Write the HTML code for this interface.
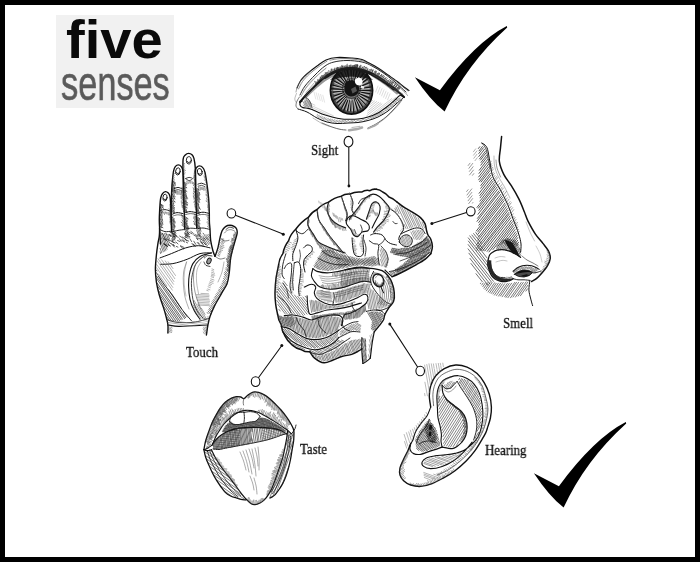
<!DOCTYPE html>
<html>
<head>
<meta charset="utf-8">
<title>five senses</title>
<style>
html,body{margin:0;padding:0;background:#fff;}
body{width:700px;height:562px;overflow:hidden;position:relative;font-family:"Liberation Serif",serif;}
#frame{position:absolute;left:0;top:0;width:690px;height:552px;border:5px solid #000;background:#fff;}
#logo{position:absolute;left:56px;top:14.5px;width:118px;height:93px;background:#f1f1f1;}
#logo .l1{position:absolute;left:10px;top:-5.5px;font-family:"Liberation Sans",sans-serif;font-weight:bold;font-size:54px;line-height:60px;color:#0a0a0a;letter-spacing:0;transform-origin:0 0;transform:scale(1.04,1.0);will-change:transform;white-space:nowrap;}
#logo .l2{position:absolute;left:4.5px;top:41px;will-change:transform;font-family:"Liberation Sans",sans-serif;font-size:48px;line-height:56px;color:#5a5a5a;transform-origin:0 0;transform:scale(0.715,1);white-space:nowrap;-webkit-text-stroke:0.6px #5a5a5a;}
.lbl{position:absolute;font-family:"Liberation Serif",serif;font-size:15px;line-height:15px;color:#111;white-space:nowrap;transform-origin:0 100%;transform:scaleX(0.86);will-change:transform;-webkit-text-stroke:0.3px #111;}
svg{position:absolute;left:0;top:0;}
</style>
</head>
<body>
<div id="frame"></div>
<div id="logo"><div class="l1">five</div><div class="l2">senses</div></div>
<div class="lbl" style="left:310.6px;top:142.6px;">Sight</div>
<div class="lbl" style="left:186px;top:345px;">Touch</div>
<div class="lbl" style="left:503.2px;top:315.8px;">Smell</div>
<div class="lbl" style="left:299.6px;top:441.6px;">Taste</div>
<div class="lbl" style="left:484.5px;top:443px;">Hearing</div>
<svg width="700" height="562" viewBox="0 0 700 562" fill="none" stroke="#111" stroke-width="0.9" stroke-linecap="round" stroke-linejoin="round">
<defs>
<pattern id="h45" width="2.6" height="2.6" patternUnits="userSpaceOnUse" patternTransform="rotate(-55)"><line x1="0" y1="1.3" x2="2.6" y2="1.3" stroke="#111" stroke-width="0.8"/></pattern>
<pattern id="h45l" width="3.6" height="3.6" patternUnits="userSpaceOnUse" patternTransform="rotate(-55)"><line x1="0" y1="1.8" x2="3.6" y2="1.8" stroke="#222" stroke-width="0.7"/></pattern>
<pattern id="h135" width="2.8" height="2.8" patternUnits="userSpaceOnUse" patternTransform="rotate(50)"><line x1="0" y1="1.4" x2="2.8" y2="1.4" stroke="#111" stroke-width="0.8"/></pattern>
<pattern id="hv" width="2.4" height="2.4" patternUnits="userSpaceOnUse" patternTransform="rotate(80)"><line x1="0" y1="1.2" x2="2.4" y2="1.2" stroke="#111" stroke-width="0.7"/></pattern>
<pattern id="hh" width="2.4" height="2.4" patternUnits="userSpaceOnUse" patternTransform="rotate(-8)"><line x1="0" y1="1.2" x2="2.4" y2="1.2" stroke="#111" stroke-width="0.7"/></pattern>
</defs>
<!-- check marks -->
<g id="checks" fill="#000" stroke="none">
<path id="ck" d="M414.9,77.2 L439.9,90.2 Q475.2,42.4 506.8,26.1 L507.2,27.4 Q466.3,64.4 444.6,111.6 Q430,100 414.9,77.2 Z"/>
<use href="#ck" x="119" y="396"/>
</g>
<!-- connectors -->
<g id="conn" stroke="#111" stroke-width="1.1" fill="#fff">
<line x1="348.8" y1="147" x2="348.8" y2="185"/>
<ellipse cx="348.5" cy="141.7" rx="4.4" ry="5.3"/>
<circle cx="348.9" cy="186" r="1.4" fill="#111" stroke="none"/>
<line x1="235.5" y1="215.2" x2="283" y2="234"/>
<ellipse cx="231.4" cy="213.4" rx="4.3" ry="4.6"/>
<circle cx="283.3" cy="234.2" r="1.5" fill="#111" stroke="none"/>
<line x1="466.5" y1="212.6" x2="432" y2="223.4"/>
<ellipse cx="470.8" cy="211.3" rx="4.3" ry="4.6"/>
<circle cx="431.9" cy="223.5" r="1.5" fill="#111" stroke="none"/>
<line x1="281.7" y1="345.8" x2="258.6" y2="377.5"/>
<ellipse cx="255.6" cy="381.6" rx="4.3" ry="4.9"/>
<circle cx="281.8" cy="345.6" r="1.5" fill="#111" stroke="none"/>
<line x1="389.8" y1="324.1" x2="417.6" y2="367"/>
<ellipse cx="420.2" cy="371" rx="4.3" ry="4.7"/>
<circle cx="389.8" cy="324" r="1.5" fill="#111" stroke="none"/>
</g>
<!-- eye -->
<g id="eye">
<clipPath id="eyeclip"><path d="M300,102L300.5,101.4L301.2,100.6L302,99.7L302.9,98.6L303.8,97.5L304.9,96.3L305.9,95.2L307,94L308.1,92.8L309.3,91.6L310.6,90.3L311.9,88.9L313.3,87.6L314.6,86.3L315.8,85.1L317,84L318.1,83L319.1,82L320.1,81.1L321.1,80.2L322,79.3L323,78.5L324,77.8L325,77L326.1,76.3L327.2,75.6L328.3,74.9L329.5,74.2L330.7,73.6L331.8,73.1L332.9,72.5L334,72L335,71.5L336,71.1L337,70.6L337.9,70.2L338.9,69.9L339.9,69.6L340.9,69.3L342,69L343.2,68.8L344.5,68.6L345.8,68.4L347.1,68.2L348.5,68.1L349.7,68.1L350.9,68L352,68L352.9,68L353.7,68.1L354.4,68.1L355,68.2L355.6,68.4L356.3,68.6L357.1,68.8L358,69L359.1,69.3L360.2,69.6L361.5,69.9L362.8,70.2L364.1,70.6L365.4,71.1L366.7,71.5L368,72L369.2,72.5L370.5,73.1L371.8,73.6L373,74.2L374.2,74.9L375.5,75.6L376.8,76.3L378,77L379.3,77.8L380.5,78.6L381.8,79.5L383.1,80.4L384.4,81.4L385.6,82.3L386.8,83.2L388,84L389.1,84.8L390.1,85.5L391.1,86.3L392.1,87L393.1,87.7L394,88.5L395,89.2L396,90L397.1,90.9L398.2,91.8L399.4,92.9L400.5,93.9L401.6,94.8L402.6,95.7L403.4,96.5L404,97L403.7,96.9L403.3,96.7L402.8,96.5L402.2,96.3L401.7,96.1L401.1,96L400.5,95.9L400,96L399.5,96.2L399.1,96.5L398.7,96.9L398.2,97.3L397.8,97.8L397.3,98.3L396.7,98.9L396,99.5L395.2,100.2L394.3,100.9L393.4,101.7L392.4,102.5L391.3,103.4L390.2,104.3L389.1,105.1L388,106L386.8,106.9L385.6,107.8L384.4,108.7L383.1,109.7L381.8,110.6L380.5,111.4L379.3,112.3L378,113L376.8,113.7L375.5,114.3L374.2,114.8L373,115.3L371.8,115.8L370.5,116.2L369.2,116.6L368,117L366.8,117.4L365.5,117.7L364.2,118L363,118.2L361.8,118.4L360.5,118.7L359.2,118.8L358,119L356.7,119.1L355.4,119.3L354.1,119.3L352.8,119.4L351.5,119.5L350.2,119.5L349.1,119.5L348,119.5L347.1,119.5L346.3,119.5L345.6,119.5L345,119.4L344.4,119.3L343.7,119.3L342.9,119.1L342,119L340.9,118.8L339.8,118.6L338.5,118.4L337.2,118.2L335.9,117.9L334.6,117.6L333.3,117.3L332,117L330.8,116.7L329.5,116.4L328.2,116L327,115.7L325.8,115.3L324.5,114.9L323.2,114.5L322,114L320.7,113.5L319.4,112.9L318.1,112.3L316.8,111.7L315.5,111L314.3,110.4L313.1,109.9L312,109.5L311,109.2L310,108.9L309,108.7L308.2,108.6L307.3,108.5L306.5,108.3L305.7,108.2L305,108L304.3,107.8L303.6,107.6L303,107.4L302.3,107.2L301.8,106.9L301.3,106.7L300.9,106.3L300.5,106L300.2,105.6L300.1,105L300,104.5L300,103.9L300,103.3L300,102.8L300,102.3L300,102Z"/></clipPath>
<g clip-path="url(#eyeclip)">
<path d="M314,92L315.8,99M316.2,92.8L318,99.8M318.4,93.6L320.2,100.6M320.6,94.4L322.4,101.4M322.8,95.2L324.6,102.2" stroke-width="0.4" stroke="#bbb"/>
<path d="M378,86L375.6,92M380,87.3L377.6,93.3M382,88.6L379.6,94.6M384,89.9L381.6,95.9M386,91.2L383.6,97.2M388,92.5L385.6,98.5M390,93.8L387.6,99.8" stroke-width="0.4" stroke="#aaa"/>
<path d="M306,97C307.8,95.2 313.8,89.3 317,86.5C320.2,83.7 322.2,81.9 325,80C327.8,78.1 332.5,75.8 334,75" stroke-width="2.2" stroke="#999"/>
<path d="M372,75.5C373.3,76.3 377.2,78.6 380,80.5C382.8,82.4 386.2,84.8 389,87C391.8,89.2 395.7,92.4 397,93.5" stroke-width="2" stroke="#999"/>
<path d="M371.4,101.4L372.8,100.4M370.5,104.2L374.5,101M369.3,107.3L376.6,101.6M367.8,110.8L378.7,102.3M367.5,113.2L380.6,103M366.6,115.9L381.9,104M369.5,116L391.8,98.6M373.4,114.9L395.5,97.6M377.1,114.2L397.7,98.1" stroke-width="0.4" stroke="#888"/>
<path d="M305.4,100.7L314.9,105.2M305.1,102.5L333.4,115.8M304.7,104.1L332.1,116.9M304.5,106L325.1,115.6M304.1,107.7L306.2,108.7" stroke-width="0.4" stroke="#999"/>
<ellipse cx="351.5" cy="90.3" rx="21" ry="23.7" fill="#7a7a7a" stroke="#111" stroke-width="1.9"/>
<path d="M359.6,90.4L370.9,90.6M361,92.1L369.6,93.7M358.7,93.3L369.9,98.1M359.3,95.4L368.3,101.3M357.8,96.8L365.9,105.3M357.1,98.7L362.7,107.2M355.3,98.2L360.2,108.5M354.2,99.3L358,111.7M352.5,100.7L353.7,112.8M350.9,101.1L350.3,111M349.6,100L347.4,110.8M347.7,100.2L343.7,110.7M346.5,99.4L341,109.3M346.2,96.7L338.1,106.3M344.9,95.9L337,102.7M344.7,94.1L333.5,100.3M343.5,92.9L333.9,96M343.8,91.1L333.3,92.2M343.9,89.7L331.3,88.7M343.1,88L331.8,84.8M344.3,86.5L333.6,80.7M343.9,84.3L334.9,77.1M346,83.7L338.4,74.4M346.9,82.7L340.5,71.9M348,80.3L344.6,70.4M349.4,80.6L346.7,68.2M351.3,81.6L351,68.2M352.6,81.4L354.1,68.1M354,81.3L357.6,68.5M355.8,80.8L360.6,70.3M356.7,83L363.7,73.4M358.1,83.9L366.8,75.4M358.4,85.5L367.4,79.1M358.8,87.2L370.3,82.2M359.8,88.8L371.4,86.8" stroke-width="1.2" stroke="#111"/>
<path d="M360.9,91.3L371.2,92.3M360.3,93L369.3,95.7M359.3,94.7L369.5,100.5M358.4,96L367.6,103.7M357.9,97.5L365.4,105.8M356.5,98.7L361.6,107.3M355.3,99.7L359.2,109.1M353.6,99.6L356.3,111.4M352,99.8L352.6,111.6M350.6,99.3L349.4,111.2M349.1,99.4L346.2,110.8M347.3,99.1L342.2,109.8M345.6,98.3L339.3,106.7M345.8,96.2L337.9,104.5M344.9,95.1L336.1,101.4M344.1,93.4L334,97.6M342,92L332.6,93.7M343.4,90.4L331.5,90.5M343.8,88.7L332.5,86.4M343.1,86.5L334.2,82.5M343.6,85L335.4,79.4M344.7,83.3L336.8,75.1M346.7,83.6L340.1,74.4M347.7,81.7L342.4,69.9M348.9,81.7L345.5,70.5M350.5,80.7L349.3,68.4M352.1,79.9L352.9,68M353.5,80.1L355.8,67.9M354.7,82.1L358.9,71.4M356.5,81.4L362.3,70.9M356.6,84L365.2,73.4M359.1,84L367.6,77M359.4,85.9L368.2,80.9M359.7,87.7L370.2,84.3M360.1,89.4L370.7,88.4" stroke-width="0.6" stroke="#f4f4f4"/>
<ellipse cx="351.5" cy="90.3" rx="19.4" ry="22.099999999999998" stroke="#222" stroke-width="2.2" opacity="0.55"/>
<path d="M330,80 Q351,58 373,80 Q351,73 330,80Z" fill="#111" stroke="none" opacity="0.85"/>
<path d="M345,84 Q347,79.5 352,80.5 Q355,80 357.5,83 Q360,88 358.5,92.5 Q355.5,97 350.5,96.5 Q345.5,95.5 344.5,90.5 Q344,87 345,84Z" fill="#141414" stroke="none"/>
<ellipse cx="351.5" cy="88.5" rx="9" ry="9.8" stroke="#222" stroke-width="1.3" opacity="0.6"/>
<path d="M351,89 L355.5,86.5 L357,91 L352.5,93.5Z" fill="#555" stroke="none"/>
<path d="M355,79.5 Q358,76.8 361.5,78.5 Q363.5,81 362.3,84 Q360,86.3 357,85 Q354.3,83 355,79.5Z" fill="#fff" stroke="none"/>
<path d="M361,85.5 L364.5,86.5 L363.5,89 L360.8,88Z" fill="#eee" stroke="none"/>
</g>
<path d="M404,97.5C403.3,97.2 401.3,95.2 400,95.5C398.7,95.8 398,97.2 396,99C394,100.8 391,103.7 388,106C385,108.3 381.3,111.2 378,113C374.7,114.8 371.3,116 368,117C364.7,118 361.3,118.6 358,119C354.7,119.4 350.7,119.3 348,119.3C345.3,119.3 344.7,119.4 342,119C339.3,118.6 335.3,117.8 332,117C328.7,116.2 325.3,115.2 322,114C318.7,112.8 313.7,110.2 312,109.5" stroke-width="1.1"/>
<path d="M402.5,98.5C401.4,99.4 398.4,101.9 396,104C393.6,106.1 391,108.8 388,111C385,113.2 381.3,115.4 378,117C374.7,118.6 371.3,119.6 368,120.5C364.7,121.4 361.3,122.1 358,122.5C354.7,122.9 351.5,122.8 348,123C344.5,123.2 340.5,123.7 337,123.5C333.5,123.3 330.3,122.9 327,122C323.7,121.1 320.3,119.7 317,118C313.7,116.3 310.2,113.5 307,112C303.8,110.5 299.5,109.5 298,109" stroke-width="1"/>
<path d="M402,100C400.7,101.5 396.7,106.2 394,109C391.3,111.8 389,114.5 386,117C383,119.5 379,122.2 376,124C373,125.8 369.3,127.3 368,128" stroke-width="0.8" stroke="#333"/>
<path d="M400,103C398.7,104.5 394.8,109.2 392,112C389.2,114.8 386,117.7 383,120C380,122.3 375.5,125 374,126" stroke-width="0.5" stroke="#777"/>
<path d="M317,115L317.7,114.7M317.2,116.4L319.3,115.4M318.4,117.4L321.1,116.2M319.9,118.1L322.8,116.8M321.5,118.9L324.7,117.5M323,119.5L326.2,118M324.9,120.1L328.3,118.6M326.8,120.8L330.6,119.1M328.6,121.3L332.4,119.5M330.7,121.7L334.8,119.8M333.4,122.1L337.3,120.3M335.7,122.4L340.1,120.4M338.7,122.4L343.3,120.3M341.1,122.5L345.8,120.3M344.5,122.4L348.7,120.4M348.8,122L352.4,120.3M396.3,99.8L400.3,98M351.6,121.9L354.8,120.4M393.3,102.5L399.5,99.6M355.1,121.8L358.9,120M390.1,105.5L396.5,102.5M359.2,121.3L364.1,119M385.1,109.2L393.2,105.5M364.2,120.5L389.4,108.8M371,118.7L384,112.7" stroke-width="0.5" stroke="#444"/>
<path d="M322,123C323.7,123.7 329,126 332,127C335,128.1 337.7,128.8 340,129.3C342.3,129.8 345,129.9 346,130" stroke-width="0.9" stroke="#555"/>
<path d="M313,118C314.5,118.9 319.2,122.1 322,123.5C324.8,124.9 328.7,126 330,126.5" stroke-width="0.6" stroke="#888"/>
<path d="M349,130.3C350.2,130.1 353.8,129.8 356,129.3C358.2,128.9 361,127.9 362,127.6" stroke-width="2.6" stroke="#aaa"/>
<path d="M368,128.5C368.8,128.2 371.3,127.3 373,126.5C374.7,125.7 377.2,124 378,123.5" stroke-width="1.8" stroke="#aaa"/>
<path d="M352,127.5L360,126.3" stroke-width="1.2" stroke="#bbb"/>
<path d="M302,101C301.7,101.3 300.2,102.2 300,103C299.8,103.8 300,105.2 300.5,106C301,106.8 301.8,107.2 303,107.6C304.2,108 306.5,108 308,108.3C309.5,108.6 311.3,109.3 312,109.5" stroke-width="1.2"/>
<path d="M308.1,98.8L311.2,104.2M306.3,98.1L311.3,106.8M305.5,98.6L310.6,107.5M304.6,99.9L308.9,107.4M304.2,101.4L307.4,106.9M303.1,101.9L305.9,106.7M303.4,105L304.2,106.3" stroke-width="0.5" stroke="#333"/>
<path d="M306,97.5C306.5,97.9 308.2,98.9 309,100C309.8,101.1 310.5,102.7 311,104C311.5,105.3 311.8,107.3 312,108" stroke-width="0.7" stroke="#333"/>
<path d="M298,109C297.7,108.5 296.2,107.3 296,106C295.8,104.7 296.4,102.5 297,101C297.6,99.5 299.1,97.7 299.5,97" stroke-width="0.7" stroke="#444"/>
<path d="M296.5,103C296.2,102.3 294.8,100.6 294.8,99C294.8,97.4 296.2,94.4 296.5,93.5" stroke-width="0.5" stroke="#777"/>
<path d="M300,102C301.2,100.7 304.2,97 307,94C309.8,91 314,86.8 317,84C320,81.2 322.2,79 325,77C327.8,75 331.2,73.3 334,72C336.8,70.7 339,69.7 342,69C345,68.3 349.3,68 352,68C354.7,68 355.3,68.3 358,69C360.7,69.7 364.7,70.7 368,72C371.3,73.3 374.7,75 378,77C381.3,79 385,81.8 388,84C391,86.2 393.3,87.8 396,90C398.7,92.2 402.7,95.8 404,97" stroke-width="2.2"/>
<path d="M325,77.5C326.5,76.7 331.2,73.8 334,72.5C336.8,71.2 339,70.2 342,69.6C345,68.9 349.3,68.6 352,68.6C354.7,68.6 355.3,68.9 358,69.6C360.7,70.3 364.7,71.3 368,72.6C371.3,73.9 374.7,75.6 378,77.6C381.3,79.6 385.3,82.6 388,84.5C390.7,86.4 393,88.2 394,89" stroke-width="3" stroke="#1a1a1a"/>
<path d="M316.1,84.9L314.8,81.3M317,84L316.2,81.7M317.9,83.2L317.7,79.7M318.7,82.4L318.5,80M319.5,81.6L319.4,79.3M320.3,80.9L320.2,77.8M321.1,80.2L320.4,76.9M321.8,79.5L321.9,76.8M322.6,78.9L321.7,75.6M323.4,78.2L322.6,75.8M324.2,77.6L323.4,75.3M325,77L324.3,74.2M325.9,76.4L325.3,72.7M326.8,75.8L326.2,72.6M327.7,75.3L327,72.4M328.6,74.8L327.8,72.1M329.5,74.2L328.8,70.6M330.4,73.8L330.4,71.2M331.3,73.3L331.2,69.2M332.2,72.8L331.8,69M333.1,72.4L333.1,69.2M334,72L334.5,69M334.8,71.6L334.9,68M335.6,71.2L336.3,68.4M336.4,70.9L337,67.3M337.2,70.6L337.5,67.6M337.9,70.2L338,67.9M338.7,70L338.5,67.6M339.5,69.7L340.1,67M340.3,69.4L340.2,67.1M341.1,69.2L341.9,65.3M342,69L342.6,66.2M342.9,68.8L343.1,66M343.9,68.6L344.4,66.1M345,68.5L345.4,65.8M346,68.4L347.2,64.2M347.1,68.2L347.8,65.6M348.2,68.2L349.4,65.3M349.2,68.1L349.8,65.9M350.2,68L350.8,64.9M351.2,68L352,65.4M352,68L352.8,65.8M352.7,68L353.3,65.6M353.4,68L354.2,65.8M354,68.1L354.3,65.3M354.5,68.2L355.1,64.8M355,68.2L356,64.5M355.5,68.4L356.7,64.7M356,68.5L357.5,65.5M356.6,68.6L357.4,64.5M357.3,68.8L357.9,65.2M358,69L359.3,66.7M358.8,69.2L360.4,65.2M359.7,69.4L361.1,65.8M360.7,69.7L362.3,67.2M361.7,70L363,66.8M362.8,70.2L364.5,66.4M363.8,70.6L365.6,67.2M364.9,70.9L366.8,67.3M365.9,71.2L367.6,68.6M367,71.6L367.9,69.1M368,72L369.4,69.6M369,72.4L371,69.1M370,72.8L371.8,69.4M371,73.3L372.9,70.1M372,73.8L373.1,70M373,74.2L375.1,71M374,74.8L375.9,71.2M375,75.3L376.3,71.6M376,75.8L377.6,73.5M377,76.4L378.7,72.8M378,77L379.6,73.3M379,77.6L381.6,74.4M380,78.3L382,75.1M381.1,79L383.4,75.3M382.1,79.7L384.4,76.2M383.1,80.4L384.8,77.9M384.1,81.2L386.1,77.5M385.1,81.9L387.2,78.6M386.1,82.6L387.9,80.3M387.1,83.3L389.2,79.8M388,84L390.7,80.4M388.9,84.6L391.1,81.4M389.7,85.2L392.2,82.1M390.5,85.8L392.6,81.9M391.3,86.4L393.6,82.3M392.1,87L395.3,84.8M392.9,87.6L395.5,83.7M393.7,88.2L396.9,85.1M394.4,88.8L396.9,86.1M395.2,89.4L398.5,86.7M396,90L398.9,87.5M396.8,90.7L399.7,86.6M397.7,91.4L400.1,87.6" stroke-width="0.7" stroke="#222"/>
<path d="M300,95C300.8,93.5 302.5,89.3 305,86C307.5,82.7 311.7,78.3 315,75C318.3,71.7 321.8,68.2 325,66C328.2,63.8 330.3,62.9 334,62C337.7,61.1 342.3,60.5 347,60.5C351.7,60.5 357.8,61.1 362,62C366.2,62.9 368.7,64.3 372,66C375.3,67.7 378.7,69.8 382,72C385.3,74.2 389,77.1 392,79.5C395,81.9 397.7,84.4 400,86.5C402.3,88.6 405,91.1 406,92" stroke-width="0.9"/>
<path d="M297,88C297.7,86.7 299.2,82.5 301,80C302.8,77.5 305.3,75.3 308,73C310.7,70.7 314,68.2 317,66C320,63.8 322.7,61.4 326,60C329.3,58.6 332.7,57.8 337,57.5C341.3,57.2 347.8,57.7 352,58C356.2,58.3 359.3,58.8 362,59.5C364.7,60.2 365.3,61.1 368,62.5C370.7,63.9 374.7,65.9 378,68C381.3,70.1 384.7,72.7 388,75C391.3,77.3 395.3,80 398,82C400.7,84 402.2,85.6 404,87C405.8,88.4 408.2,89.9 409,90.5" stroke-width="1.1"/>
<path d="M296,92C296.3,90.8 296.7,87.4 298,85C299.3,82.6 301.8,79.9 304,77.5C306.2,75.1 309.8,71.7 311,70.5" stroke-width="0.6" stroke="#666"/>
<path d="M298.5,89C299.2,87.8 300.7,84 302.5,81.5C304.3,79 306.8,76.5 309.5,74C312.2,71.5 315.6,68.9 318.5,66.8C321.4,64.7 325.6,62.1 327,61.2" stroke-width="0.6" stroke="#444"/>
<path d="M330,60.2C331.7,59.9 336.3,58.8 340,58.6C343.7,58.4 348.3,58.7 352,59C355.7,59.3 359,59.8 362,60.6C365,61.4 368.7,63.4 370,64" stroke-width="0.6" stroke="#444"/>
<path d="M372,65.5C373.7,66.4 378.7,68.9 382,71C385.3,73.1 388.8,75.8 392,78.2C395.2,80.6 398.3,83.3 401,85.4C403.7,87.5 406.8,90.1 408,91" stroke-width="0.6" stroke="#444"/>
<path d="M301,96.5C301.8,95.1 303.5,91.2 306,88C308.5,84.8 312.7,80.3 316,77C319.3,73.7 324.3,69.5 326,68" stroke-width="0.5" stroke="#555"/>
<path d="M303,92C304,90.6 306.5,86.4 309,83.5C311.5,80.6 315.2,77 318,74.5C320.8,72 324.7,69.5 326,68.5" stroke-width="0.5" stroke="#888"/>
<path d="M390,80C391.3,81 395.5,83.9 398,86C400.5,88.1 403.4,90.9 405,92.5C406.6,94.1 407.1,95 407.5,95.5" stroke-width="0.6" stroke="#555"/>
<path d="M375.9,72.9L383.1,77M374.6,73.9L392.1,83.9M372.7,74.5L397.9,89.1M389.6,86.3L402.9,94M397.1,92.4L400.7,94.5" stroke-width="0.5" stroke="#555"/>
<path d="M306.1,92.4L313.8,83.3M304.4,97.2L322.9,75.2M322.1,79.2L326.8,73.7" stroke-width="0.5" stroke="#666"/>
</g>
<!-- hand -->
<g id="hand">
<path d="M160.5,244C160.3,241.3 159.8,232.1 159.6,228C159.4,223.9 159.3,222.5 159.3,219.4C159.3,216.3 159.5,213 159.7,209.4C159.9,205.8 160.2,200.6 160.7,198C161.2,195.4 161.7,194.7 162.5,193.6C163.3,192.5 164.4,191.7 165.4,191.6C166.4,191.5 167.5,192.2 168.3,193C169.1,193.8 169.6,194.6 170,196.6C170.4,198.6 170.5,202.2 170.7,205.1C170.9,207.9 171,210.9 171.1,213.7C171.2,216.5 171.3,220.6 171.3,222" stroke-width="1.4"/>
<path d="M171.6,232C171.5,230.3 171.3,225.3 171.2,222C171.1,218.7 171.1,216.3 171.1,212.3C171.1,208.3 171.2,202.8 171.4,198C171.6,193.2 171.7,188.2 172.1,183.7C172.5,179.2 173,173.8 173.6,170.9C174.2,168 174.7,167.4 175.5,166.4C176.3,165.4 177.3,164.9 178.3,164.9C179.3,164.9 180.5,165.6 181.3,166.6C182.1,167.6 182.6,168.7 183,170.9C183.4,173.1 183.5,175.5 183.6,180C183.7,184.5 183.6,195 183.6,198" stroke-width="1.4"/>
<path d="M184.6,229C184.6,226.4 184.5,218.9 184.3,213.7C184.1,208.5 183.8,204.2 183.6,198C183.4,191.8 183.2,183 183.1,176.6C183,170.2 182.7,163 183.1,159.4C183.5,155.8 184.4,156 185.3,155C186.2,154 187.5,153.4 188.6,153.4C189.7,153.4 191.1,153.9 192,154.8C192.9,155.7 193.4,156.3 194,158.7C194.6,161.1 195.1,164 195.4,169.4C195.7,174.8 195.5,183.8 195.7,190.9C195.9,198.1 196.2,206.1 196.4,212.3C196.6,218.5 196.6,225.4 196.7,228" stroke-width="1.4"/>
<path d="M195.6,186C195.6,183.5 195.2,174 195.4,170.9C195.6,167.8 196.2,168.1 196.8,167.3C197.5,166.5 198.3,165.9 199.3,165.9C200.3,165.9 201.9,166.5 202.8,167.6C203.8,168.7 204.3,169.4 205,172.3C205.7,175.2 206.5,180.8 207.1,185.1C207.7,189.4 208.2,193.5 208.6,198C209,202.5 209.2,208.3 209.3,212.3C209.4,216.3 209.3,219.2 209.4,222C209.5,224.8 209.8,226.2 210,229.3C210.2,232.4 210.2,237.1 210.7,240.7C211.2,244.3 212.2,248.1 212.9,250.7C213.6,253.3 214.7,255.4 215,256.4" stroke-width="1.4"/>
<path d="M215,256.4C215.5,255 217.1,251 217.9,247.9C218.7,244.8 219.3,240.8 220,237.9C220.7,235 221.2,232.6 222.1,230.7C223,228.8 224.2,227.5 225.5,226.6C226.8,225.7 228.6,225.3 230,225.3C231.4,225.3 232.9,225.8 234,226.4C235.1,227 236.1,227.8 236.6,229C237.1,230.2 237.5,231.2 237.1,233.6C236.7,236 235.4,239.6 234.3,243.6C233.2,247.6 231.5,253.1 230.7,257.9C229.9,262.6 229.9,267.8 229.3,272.1C228.7,276.4 228.4,280 227.1,283.6C225.8,287.2 223.5,289.8 221.4,293.6C219.3,297.4 216.2,302.6 214.3,306.4C212.4,310.2 211.1,313.3 210,316.4C208.9,319.5 208.5,321.9 207.9,325C207.3,328.1 206.7,333.3 206.4,335" stroke-width="1.4"/>
<path d="M159.6,228C159.6,229.3 159.6,233.4 159.3,236C159,238.6 158.4,240.4 157.9,243.6C157.4,246.8 156.8,250.7 156.4,255C156,259.3 155.4,264.8 155.4,269.3C155.4,273.8 155.8,277.8 156.4,282.1C157.1,286.4 158.1,290.7 159.3,295C160.5,299.3 162.4,304.1 163.6,307.9C164.8,311.7 165.7,315 166.4,317.9C167.1,320.8 167.7,322.5 167.9,325C168.2,327.5 167.9,331.7 167.9,333" stroke-width="1.4"/>
<ellipse cx="177.9" cy="171.4" rx="2.3" ry="3.6" transform="rotate(8 177.9 171.4)" stroke-width="0.9"/>
<path d="M176.3,172.7Q177.9,175 179.5,172.7" stroke-width="0.9"/>
<ellipse cx="188.8" cy="160.3" rx="2.5" ry="3.7" transform="rotate(0 188.8 160.3)" stroke-width="0.9"/>
<path d="M187.1,161.6Q188.8,164 190.6,161.6" stroke-width="0.9"/>
<ellipse cx="199.8" cy="172" rx="2.4" ry="3.6" transform="rotate(-12 199.8 172)" stroke-width="0.9"/>
<path d="M198.1,173.3Q199.8,175.6 201.5,173.3" stroke-width="0.9"/>
<ellipse cx="165" cy="197.6" rx="2.1" ry="3.4" transform="rotate(5 165 197.6)" stroke-width="0.9"/>
<path d="M163.5,198.8Q165,201 166.5,198.8" stroke-width="0.9"/>
<path d="M226,229.5C226.6,229.1 228.2,227.5 229.5,227.3C230.8,227.1 232.8,228 233.5,228.2" stroke-width="0.8"/>
<path d="M224.5,233C224.9,232.6 225.9,231.1 227,230.5C228.1,229.9 229.8,229.5 231,229.6C232.2,229.7 233.9,230.8 234.5,231" stroke-width="0.6" stroke="#555"/>
<path d="M185.7,178.6C186.2,178.4 187.8,177.4 189,177.4C190.2,177.4 192.6,178.1 192.6,178.6C192.6,179.1 190.3,180.6 189.2,180.6C188,180.6 186.3,178.9 185.7,178.6" stroke-width="0.8"/>
<path d="M197.9,184.2C198.5,184 200.3,183.1 201.5,183.2C202.7,183.3 204.7,184.4 205.3,184.6" stroke-width="0.9"/>
<path d="M198.2,186.2C198.8,186.1 200.5,185.3 201.6,185.4C202.7,185.5 204.4,186.6 205,186.8" stroke-width="0.7"/>
<path d="M174,188.6C174.7,188.4 176.7,187.4 178,187.4C179.3,187.4 181.3,188.6 182,188.8" stroke-width="0.9"/>
<path d="M174.3,190.6C174.9,190.4 176.8,189.6 178,189.6C179.2,189.6 181,190.6 181.6,190.8" stroke-width="0.7"/>
<path d="M160.7,210.4C161.4,210.3 163.4,209.5 165,209.6C166.6,209.7 169.2,210.7 170,210.9" stroke-width="0.9"/>
<path d="M172,214.4C172.8,214.1 175.2,212.7 177,212.6C178.8,212.5 182,213.4 183,213.6" stroke-width="1"/>
<path d="M172.5,216.2C173.3,216 175.8,214.9 177.5,214.8C179.2,214.7 182.1,215.6 183,215.8" stroke-width="0.6"/>
<path d="M184.8,212.8C185.7,212.6 188.1,211.6 190,211.6C191.9,211.6 195,212.4 196,212.6" stroke-width="1"/>
<path d="M185,214.8C185.9,214.6 188.7,213.6 190.5,213.6C192.3,213.6 195.1,214.4 196,214.6" stroke-width="0.6"/>
<path d="M197,213.4C198,213.2 201,212.2 203,212.2C205,212.2 208,213.2 209,213.4" stroke-width="1"/>
<path d="M197.2,215.4C198.2,215.2 201,214.4 203,214.4C205,214.4 208,215.2 209,215.4" stroke-width="0.6"/>
<path d="M160,229.6C160.8,229.9 163.2,231.3 165,231.6C166.8,231.9 170,231.3 171,231.2" stroke-width="0.9"/>
<path d="M172,231.8C173,231.6 176,230.8 178,230.4C180,230 183,229.7 184,229.6" stroke-width="0.9"/>
<path d="M184.8,229.4C185.8,229.2 188.6,228.3 190.5,228.2C192.4,228.1 195.4,228.5 196.4,228.6" stroke-width="0.9"/>
<path d="M197,228.8C198,228.7 200.9,227.9 203,228C205.1,228.1 208.5,229.2 209.6,229.4" stroke-width="0.9"/>
<path d="M221,239C221.7,239.3 223.7,240.8 225,241C226.3,241.2 228.3,240.3 229,240.2" stroke-width="0.7" stroke="#444"/>
<path d="M216,257C216.7,257.3 218.5,258.8 220,259C221.5,259.2 224.2,258.2 225,258" stroke-width="0.7" stroke="#444"/>
<path d="M183.7,181.8L186.4,183.7M183.7,183.1L186.4,185M183.7,184.3L185.8,185.9M183.5,185.4L186.8,187.8M183.8,186.7L185.8,188.1M183.9,188L185.8,189.4M183.8,189.3L186.9,191.5M183.7,190.2L185.6,191.5M183.6,191L185.8,192.6M183.7,192L186.4,193.9M183.8,193.4L186.6,195.4M183.8,194.5L186.9,196.7M184,195.7L187.8,198.3M183.7,196.8L186.9,199M183.6,197.7L186,199.4M184,199.3L186.6,201.1M184.1,200.4L187.8,203M184.1,201.3L186.4,202.8M183.9,202.2L187.7,204.8M184.2,203.2L187.2,205.4M184,204.1L186,205.5M183.9,205.5L187.2,207.8M184,206.4L186,207.8M184.3,207.9L186.4,209.4M184.4,209.1L186.6,210.6M184.2,209.8L187.2,212M184.3,211L186.5,212.5" stroke-width="0.7" stroke="#111"/>
<path d="M184.6,216.3L188.1,218.8M184.6,217.6L187,219.2M184.5,218.8L187.7,221.1M184.6,220.2L187,221.9M184.6,221.5L187.2,223.3M184.8,222.4L186.9,223.9M184.7,223.3L187.9,225.5M184.8,224.4L188.7,227.2M184.6,225.5L188.4,228.1M185,226.6L188.8,229.3M185,227.5L187.3,229.2" stroke-width="0.7" stroke="#111"/>
<path d="M195,170.4L194.3,169.9M195.3,172.2L194.2,171.4M195.1,173.2L194.3,172.6M195.4,174.6L194,173.6M195.4,176.2L193.9,175.2M195.5,177.5L193.8,176.3M195.1,178.4L193.5,177.3M195.1,179.9L193.7,178.9M195.4,181.3L194.3,180.5M195.5,182.7L194.3,181.8M195.5,184L193.6,182.7M195.1,185L192.7,183.3M195.3,186.7L193.2,185.1M195.6,188L194.3,187.1M195.2,189.4L193,187.8M195.5,190.6L193.3,189.1M195.2,192L193.5,190.8M195.4,193.2L193.4,191.8M195.5,194.9L193.2,193.3M195.7,196.6L193.3,194.9M195.5,197.9L193.2,196.4M195.5,199.3L193.4,197.8M195.8,200.9L194,199.7M196,202.5L194.3,201.3M195.6,203.7L193.7,202.3M195.8,205.3L194.5,204.4M195.8,206.7L194.6,205.9M196.2,208.1L194.9,207.2M196.1,209.5L195.2,208.8" stroke-width="0.6" stroke="#222"/>
<path d="M196.1,215.4L194,213.9M196.5,217.2L194.7,216M196.4,218.3L194,216.6M196.2,219.3L193.5,217.3M196.4,220.6L193.7,218.7M196.4,222L194.7,220.8M196.2,223.3L193.4,221.4M196.5,224.8L194.2,223.2M196.3,225.6L194.1,224.2" stroke-width="0.6" stroke="#222"/>
<path d="M183.7,163.1L184.7,163.8M183.4,164.2L184.3,164.9M183.4,165.6L184.5,166.3M183.3,167.1L184.9,168.2M183.4,168.9L185.6,170.5M183.6,170.2L184.7,171M183.4,171.3L185.2,172.5M183.1,172.5L184.8,173.6M183.1,173.7L184.3,174.5M183.2,175.5L183.9,176" stroke-width="0.5" stroke="#444"/>
<path d="M172.6,180.8L175.4,182.8M172.7,182.2L175.6,184.2M172.3,183.4L175.3,185.5M172.1,184.5L174.2,186M172.1,185.8L175.2,187.9M172.3,187L174.7,188.7M172.3,188.2L175.1,190.2M172.3,189.4L175.5,191.6M172.2,190.3L175.6,192.7M172.1,191.3L174.6,193M172,192.7L174.3,194.4M172.1,194.2L175.2,196.5M171.6,195.2L174.5,197.2M171.8,196.6L175,198.9M171.9,198.1L173.9,199.5M171.6,199.4L175.1,201.9M171.8,200.9L174,202.5M171.3,202.1L173.7,203.7M171.6,203.5L174.3,205.4M171.6,204.7L173.4,205.9M171.3,205.4L174.5,207.6M171.3,206.5L174.4,208.7M171.5,207.7L174.2,209.5M171.6,209.1L174.6,211.2M171.2,210L174.6,212.5M171.3,211.1L173.9,213" stroke-width="0.7" stroke="#111"/>
<path d="M171.5,216.8L174.5,218.9M171.4,218L174.3,220.1M171.7,219.3L175.2,221.7M171.8,220.3L175.2,222.7M171.4,221.2L174.3,223.3M171.6,222.5L174.4,224.5M171.6,223.4L175.3,226M171.6,224.5L175,226.8M171.4,225.5L174.6,227.7M171.9,226.9L174.5,228.8M171.7,228.2L174,229.8M171.9,229.2L174.5,231.1M171.6,230.4L174.4,232.3" stroke-width="0.7" stroke="#111"/>
<path d="M183,188.4L181.8,187.6M183.4,189.8L181.9,188.8M183.1,190.8L182,190M183.2,192.1L181.7,191.1M183.4,193.4L181.4,192M183.4,194.8L181.9,193.7M183.4,196.1L181.5,194.8M183.5,197.5L181.4,196.1M183.3,198.6L181,196.9M183.4,200L180.7,198.1M183.4,201.6L181.7,200.4M183.6,203.4L181.1,201.6M183.7,204.7L181.2,202.9M183.8,206.4L181.6,204.9M183.8,207.6L182,206.3M183.8,208.7L182,207.4M183.8,210.3L183,209.7M184,211.9L183.4,211.4" stroke-width="0.6" stroke="#222"/>
<path d="M183.8,216.4L181.1,214.4M184,217.6L181.8,216.1M184.3,219.2L181.9,217.5M184.4,220.3L182.8,219.2M184.1,221.6L182,220.1M184.3,222.8L182.7,221.7M184,224.2L181.1,222.2M184,225.3L182.5,224.3M184.3,226.9L181.8,225.2" stroke-width="0.6" stroke="#333"/>
<path d="M173.5,172.9L174.5,173.6M173.5,174.7L174.4,175.3M173.2,176.5L174.4,177.3M172.9,178.2L174.5,179.3M172.7,179.5L174.3,180.6M172.9,181.6L174.5,182.7M172.6,183.4L173.6,184.1" stroke-width="0.5" stroke="#444"/>
<path d="M196.2,187.9L199.2,190M196.2,189.1L198.6,190.8M196.2,190.3L199.7,192.8M196.2,191.4L200,194M196.2,192.6L199.7,195M195.9,193.4L199.3,195.8M195.9,194.4L198.8,196.4M196.2,195.6L199.5,197.9M196.3,196.6L200.2,199.3M196.3,197.5L199.5,199.8M196.5,198.8L199.2,200.7M196.4,199.9L199.8,202.3M196.4,201.2L198.4,202.6M196.3,202.4L198.8,204.1M196.3,203.2L198.7,204.8M196.6,204.3L199,206M196.7,205.4L199.6,207.5M196.5,206.5L200.5,209.2M196.6,207.7L198.6,209.2M196.8,209.1L198.8,210.5M196.4,209.7L199.3,211.7M196.4,210.8L199.6,213M196.7,212.3L199.4,214.2" stroke-width="0.7" stroke="#111"/>
<path d="M196.7,216.6L199.6,218.6M196.8,217.8L200,220.1M196.7,219L199.3,220.8M196.7,220L198.9,221.4M197.1,221.5L200,223.5M197.2,222.7L199.3,224.2M197.2,224L199.4,225.6M197.2,225.1L200.3,227.3M197.2,226.1L200.4,228.3M197.3,227.3L200.3,229.4" stroke-width="0.7" stroke="#111"/>
<path d="M207.2,186.7L206.2,186M207.4,188.3L206.3,187.5M207.6,189.4L206.2,188.5M207.6,190.8L205.9,189.6M207.8,192.1L206.1,190.9M207.7,193.6L205.9,192.3M208.3,195.7L206.1,194.1M208.1,196.7L205.7,195M208.5,198.5L206.7,197.2M208.5,200L206.4,198.6M208.7,201.7L206.5,200.1M208.5,202.8L206,201.1M209,204.9L207.8,204M208.7,206L207.2,204.9M209.1,207.4L207.5,206.3M208.9,208.4L207.4,207.3M209,210L207.9,209.3M208.9,211.2L208,210.6" stroke-width="0.5" stroke="#333"/>
<path d="M209.4,216.7L207.9,215.6M209.1,218L206.8,216.4M209.4,219.4L207.4,218M209.3,220.9L207.4,219.5M209.4,222.7L207.6,221.4M209.6,224.3L206.8,222.4M209.4,225.4L207.9,224.4M209.6,226.7L208.1,225.6M209.8,228.1L207.4,226.5" stroke-width="0.5" stroke="#333"/>
<path d="M205.2,174.2L204.5,173.7M205.5,175.7L204.4,175M205.7,177.4L203.8,176M205.7,178.4L204.1,177.3M206,179.8L204.7,178.9M206.1,181.3L204.2,180M206.5,183.1L205.6,182.4" stroke-width="0.5" stroke="#444"/>
<path d="M198.4,186.9L198.8,189M199.9,187L200.4,190M201,187.2L201.4,189.4M202.1,187.3L202.5,189.5M203.4,187.7L203.9,190.5M204.7,187.6L205.1,190.1" stroke-width="0.5" stroke="#333"/>
<path d="M160.3,203.7L163.4,205.9M160.4,204.7L162.8,206.4M160.3,206L163.6,208.3M160.2,207.3L161.9,208.5M159.8,208.5L161.6,209.7M159.8,209.9L162.9,212.1M160,211.4L161.8,212.7M159.7,212.5L161.7,213.9M159.9,214L162.4,215.8M160,215.2L162.1,216.8M159.7,216.4L162.2,218.1M159.9,217.8L162.7,219.8M159.7,218.9L162.8,221M159.8,220.4L162.8,222.5M159.7,221.7L163,224M159.8,223L162.6,225M159.5,223.9L161.8,225.6M159.6,225.4L162.9,227.7M159.6,226.4L161.6,227.7" stroke-width="0.7" stroke="#111"/>
<path d="M170.7,205.7L169.5,204.9M170.5,206.9L169.7,206.3M170.9,208.8L169.8,208.1M170.5,210L168.9,208.8M170.9,211.4L169.7,210.5M170.7,212.5L169.3,211.5M171,214.2L169.6,213.2M170.8,215.4L169.4,214.4M170.8,216.7L169,215.4M170.8,218.2L169.4,217.2M171,220.1L169.6,219.1M171.2,222L169.9,221.1M170.9,223L169.4,221.9M171.1,224.5L170.1,223.8" stroke-width="0.5" stroke="#333"/>
<path d="M161.7,211.8L162.2,214.7M162.8,211.8L163.1,213.2M164.1,212L164.5,214.6M165.4,211.8L165.7,213.4M166.6,212.3L166.9,214.1M167.9,212.4L168.4,214.8M169,212L169.4,214.2" stroke-width="0.5" stroke="#333"/>
<path d="M175,191.3L175.3,193.2M176.3,190.9L177,194.5M177.4,190.9L178,194.3M178.7,191.5L179.2,194.4M179.8,191.1L180.5,194.8M181.3,191.5L181.8,194.3" stroke-width="0.5" stroke="#333"/>
<path d="M186.7,181.1L187.2,184M188,181.1L188.4,183.5M189.5,181.2L189.9,183.2M190.6,181.3L190.9,183.3M192,181.4L192.4,183.5" stroke-width="0.5" stroke="#444"/>
<path d="M160,257.9C161.9,257.2 167.1,255.3 171.4,253.6C175.7,251.9 181.2,249.2 185.7,247.9C190.2,246.6 194.5,245.7 198.6,245.7C202.7,245.7 208.1,247.5 210,247.9" stroke-width="1"/>
<path d="M160.7,264.3C162.7,264.2 168.5,264.4 172.9,263.6C177.3,262.8 182.6,261 187.1,259.3C191.6,257.6 195.9,254.7 200,253.6C204.1,252.5 209.5,253 211.4,252.9" stroke-width="1"/>
<path d="M211.4,252.9C209.5,253.5 203.1,254.6 200,256.4C196.9,258.2 194.7,260.5 192.9,263.6C191.1,266.7 190,271.2 189.3,275C188.6,278.8 188.5,282.3 188.6,286.4C188.7,290.4 189.1,295.2 190,299.3C190.9,303.4 192.6,307.4 194.3,310.7C196,314 199.1,317.9 200,319.3" stroke-width="1.1"/>
<path d="M207.1,254.3C205.4,255.6 199.5,259.1 197.1,262.1C194.7,265.1 193.8,268.5 192.9,272.1C192,275.7 191.4,279.1 191.4,283.6C191.4,288.1 192,294.8 192.9,299.3C193.8,303.8 195.4,307.6 197.1,310.7C198.8,313.8 201.9,316.7 202.9,317.9" stroke-width="0.8"/>
<path d="M158.6,276.4C159.6,277.8 162.4,282.1 164.5,285C166.6,287.9 169.3,290.8 171.4,293.6C173.5,296.4 175.1,299.1 177,302C178.9,304.9 180.5,307.6 182.9,310.7C185.3,313.8 190,319 191.4,320.7" stroke-width="0.9"/>
<path d="M186.5,262C186.2,263.7 184.9,268.3 184.5,272C184.1,275.7 183.9,280 184.2,284C184.4,288 185.7,294 186,296" stroke-width="0.5" stroke="#888"/>
<ellipse cx="209" cy="261" rx="2.0" ry="3.0" transform="rotate(25 209 261)" fill="#999" stroke="#111" stroke-width="0.9"/>
<path d="M204.5,258C205,257.6 206.2,255.9 207.5,255.6C208.8,255.3 211.2,255.9 212,256" stroke-width="0.8"/>
<path d="M204,262C204.3,262.6 205,264.7 206,265.4C207,266.1 209.3,266.2 210,266.4" stroke-width="0.8"/>
<path d="M168.9,242.1L171.3,244.1M171.4,243.6L174,245.9M185.2,234.8L186.5,235.7M189.1,232.2L192.1,233.9M172.2,232.3L174.8,235.3M203,240L204.3,240.8M184.9,233L188.1,235.2M168.4,244L169.4,245.6M182.8,239.6L184.6,241.1M170,232.3L173.2,234.1M198.5,234L200.7,237.2M197.2,242.4L199.2,244.6M166.9,239L170,240.6M205.3,244L207.4,245.4M182.7,237.1L185.9,239.5M162.3,233.4L164,236.2M184.8,238.7L186.7,240.9M171.7,240.8L173.7,242.9M169.7,234.3L171,236.3M177.6,240.5L179.7,241.4M164.2,244.1L167,246.1M193.8,241.2L195.8,244.3M180.5,246.3L183.4,248.9M203.4,238.1L205.5,239.3M203.1,233.2L204.1,234.5M198.1,238.1L201.5,239.5M173.4,236L175.7,237.1M164.3,237L166.2,240.2M196.8,238.1L197.9,239.9M186.2,242.2L187.6,242.9M201.2,242.7L203.9,245.3M181.5,240.1L184.5,242M186.6,235.4L189.9,236.6M193.9,245.3L195,246.4M191.9,243.8L194.5,245.3M180.5,245.8L183.9,247.4M165.6,233.3L166.8,234.2M167.8,244.8L170.6,246.1M186.9,236.1L189.3,237.4M169,234.5L170.6,236.3M187.4,231.9L189.3,234.6M198.2,242.7L199.4,243.7M164,243.4L165.3,244.8M173.1,242.1L175.3,242.9M179.7,236.1L182.9,238.1M185.1,239.5L188.7,241.1M189.9,238.8L191.6,241.6M175.9,242L178,243.9M164.1,244.1L167.3,246.3M176.3,246.4L177.9,247.1M164.5,244.1L167.2,246.2M190.8,231.4L193.3,233.3M185.8,237.1L188,238.3M163.3,238.4L164.8,240M200.2,241.7L202.5,243M179.5,238.7L181.1,241.4M165.1,239.1L166.9,241.1M203.7,242.4L205.7,244.8M193.1,243.9L195.3,246.3M172.8,245.4L174.5,247.1M200.6,245.3L204.3,246.6M176,236.2L178.2,237.3M187.6,232.4L188.8,234.3M196.6,237.9L197.6,239.4M194.8,234.1L196.4,235.7M193.7,234.9L197,237M173.2,244.3L174.5,245.7M170.6,240.7L172.4,241.9M206.2,237.6L208,239.5M174.5,234.2L176.6,235.5" stroke-width="0.7" stroke="#222"/>
<path d="M169.8,234.8L170.2,236.1M167.9,234.5L169.6,239.2M166.4,234.3L169,241.4M164.5,233.6L168.4,244.3M162.6,233.3L167.6,247M160.8,232.4L167,249.3M160.1,234.6L165.8,250.4M160.2,239.2L164.6,251.2M160.2,243.4L163.3,251.8M160.1,248.3L161.7,252.6M160.1,251.9L160.7,253.6" stroke-width="0.6" stroke="#222"/>
<path d="M175.5,232.5L175.8,233.3M174.3,232.7L175.5,235.9M173.2,233.1L175.2,238.4M172.2,233L174.8,240M171.7,235L173.6,240.3M171.9,238.8L172.8,241.2" stroke-width="0.7" stroke="#111"/>
<path d="M187.4,229.8L188,231.5M186.3,230L188,234.7M185.1,230.4L187.1,235.8M184.7,233.1L186.1,236.9M184.9,236.5L185.4,237.7" stroke-width="0.6" stroke="#222"/>
<path d="M200.3,229.5L201,231.2M199.3,229.9L200.8,234.2M197.9,229.6L200.1,235.7M196.8,230.4L198.9,236.3M197.1,234.6L197.9,236.7" stroke-width="0.6" stroke="#222"/>
<path d="M208.7,234.3L209.7,235.7M207.1,234.6L209.7,238.2M205.6,234.9L210.1,241.3M204.3,235.4L210,243.6M202.8,236L208.8,244.6M200.8,235.8L206.4,243.8M199.6,236.5L204.7,243.8M200.2,240.2L202.7,243.8" stroke-width="0.6" stroke="#333"/>
<path d="M156.3,270L157,270.9M156.4,272.7L158.2,275.4M168.1,289.5L181.4,308.5M183.3,311.2L187.3,316.9M156.5,276.1L185.6,317.7M156.5,278.5L184.6,318.6M157.1,283L182.5,319.2M157.8,286.4L181.1,319.8M158.6,290.7L179.5,320.5M159.3,294.3L177.8,320.7M161,299.7L175.6,320.6M163,305.6L173.6,320.8M165,311.7L171.2,320.6M166.7,316.7L169.6,320.9" stroke-width="0.7" stroke="#222"/>
<path d="M168.2,261.8L173,268.6M165.2,260.9L175.5,275.5M161.6,259.8L174.8,278.7M158,258.7L173.9,281.5M157,260.6L173.5,284.2M156.6,264.4L172.8,287.4M156.5,267.6L172.3,290.1M158.5,274L166.9,286" stroke-width="0.5" stroke="#666"/>
<path d="M201,293.4L208.5,293.8M196.6,294.5L209.1,295.2M196.7,296L208.9,296.6M196.7,297.6L208.8,298.2M197.1,299.1L209.3,299.8M197.3,300.6L209.6,301.3M198.1,302.3L209.2,302.9M197.9,303.8L209.2,304.4M198.4,305.1L209.5,305.7" stroke-width="0.6" stroke="#888"/>
<path d="M201.4,308.2L205,314.4M198,304.5L206.5,319.3M194,300.4L205.1,319.5M193.4,302.4L202.9,318.9M193,304.8L201.2,318.9M192.4,306.4L198.5,316.9" stroke-width="0.5" stroke="#444"/>
<path d="M228.2,262.9L228.7,263.5M227.6,264.6L228.8,266M227,265.8L228.8,268M226.2,267.5L229,270.8M225.7,269L229,272.9M225.3,271.1L228.6,275M224.6,272.5L228,276.5M224.3,274.1L227.7,278.2M224.2,276.5L227.3,280.2M223.6,278.3L226.9,282.3M223.3,280.4L226.6,284.3M222.8,281.8L225.7,285.2M222,283.2L225.1,286.8M221.4,285L224.2,288.3M220.7,286.5L223.3,289.6M219.9,287.6L222.5,290.8M219,289.2L221.7,292.4M218.6,290.7L221.1,293.7M217.6,292.1L220.4,295.4M216.8,293.5L219.5,296.8M215.9,294.9L218.7,298.2M215.2,296.3L217.9,299.6M214.5,297.7L217,300.7M213.6,299.2L216.3,302.4M212.9,300.6L215.4,303.6M212.1,301.9L214.8,305M211.5,303.5L214,306.5M210.8,305.1L213.3,308.1M210.2,306.7L212.7,309.7M209.3,308.1L211.9,311.2M208.9,309.5L211.5,312.6M208.2,311.1L210.6,314.1M207.2,312.5L208.1,313.6" stroke-width="0.6" stroke="#222"/>
<path d="M233.4,244.4L233.8,244.8M232.2,245.3L233.3,246.6M231,246.7L232.9,248.9M230.1,247.8L232.4,250.6M229.4,249.7L232,252.8M228.4,251.2L231.3,254.7M228.1,253.1L231,256.6M227.6,254.9L230.7,258.6M227.4,257L230.2,260.4M227.1,259.4L229.7,262.6M226.8,261.4L228.3,263.1" stroke-width="0.5" stroke="#444"/>
<path d="M221.3,238.2L222.7,239.8M220.5,240.2L222.2,242.2M219.9,241.9L221.7,244.1M219.2,244L221.1,246.3M218.8,246.1L220.7,248.4M218.3,247.9L220.3,250.3M218,250.1L219.6,252M217.8,252.5L218.9,253.9M217.6,254.8L218.2,255.5" stroke-width="0.5" stroke="#666"/>
<path d="M204,256C202.7,257.3 197.7,261 196,264C194.3,267 193.9,270.3 193.6,274C193.3,277.7 193.5,282 194,286C194.5,290 195.4,294.2 196.6,298C197.8,301.8 200.3,307.2 201,309" stroke-width="0.6" stroke="#555"/>
<path d="M201,262C200.3,263.3 197.7,266.7 197,270C196.3,273.3 196.3,278 196.6,282C196.9,286 198.3,292 198.6,294" stroke-width="0.5" stroke="#777"/>
<path d="M186.6,262C186.1,263.7 184.1,268.3 183.6,272C183.1,275.7 183.2,279.8 183.4,284C183.6,288.2 184.1,292.8 185,297C185.9,301.2 188.3,307 189,309" stroke-width="0.6" stroke="#777"/>
<path d="M212,268.9L213.8,269.6M211.8,270.5L213.7,271.2M211.6,272.3L214.5,273.3M211.5,274L214.8,275.2M211.3,275.3L213.8,276.2M211.1,276.7L213.6,277.6M210.8,278.9L214,280M210.4,280.6L213.2,281.6M209.6,282.1L213.1,283.4M209.2,283.7L211.5,284.5M208.6,285.1L210.7,285.9M208.1,286.8L210.2,287.6M207.6,289L209.9,289.8M206.7,290.3L208.2,290.9" stroke-width="0.5" stroke="#666"/>
<path d="M222.6,238.8L223.8,239.1M222.3,240L223.6,240.3M222.3,241.6L224.7,242.2M221.7,242.9L223.6,243.4M221.6,244.9L223.8,245.4M220.8,246.5L224,247.3M220.5,247.9L222.8,248.5M220.4,249.8L222.5,250.4M219.7,251.3L221.2,251.8M219.1,252.6L220.5,253M218.7,254.2L219.9,254.6M218.1,255.7L219.6,256.1" stroke-width="0.5" stroke="#444"/>
<path d="M236.1,232.5L234.8,232.1M236.1,233.8L234.9,233.5M235.8,234.9L233.8,234.3M235.7,236L233.3,235.3M235.5,237.1L233.7,236.6M235.1,237.9L233.7,237.5M234.7,239.1L231.9,238.3M234.5,240.1L231.8,239.4M234.4,241.2L231.6,240.4M234.4,242.7L231,241.8M234,243.9L232,243.4M233.7,245L231.8,244.5M233.5,246.1L230.6,245.3M233.1,247L230.4,246.3M233,248L229.6,247.1M232.6,248.9L229.9,248.2M232.2,249.8L229,249M232.3,251.1L228.8,250.2M232,252.2L229.2,251.5M231.4,253.2L229.3,252.7M231.2,254.5L228.2,253.7M231,255.5L229,255M230.7,256.9L227.6,256.1M230.4,258.2L228.1,257.6M230.2,259.4L226.6,258.5M229.8,260.6L226.3,259.7M229.9,261.9L227.1,261.2M229.5,263L227.5,262.5M229.4,264.4L227.2,263.9M229.5,265.4L227.9,265M229.2,266.4L227.3,265.9M229.5,267.5L228,267.1M229.5,268.9L228.1,268.5M229.3,270L227.8,269.6M229.1,271.2L227.4,270.7" stroke-width="0.6" stroke="#222"/>
<path d="M224,262C223.7,263.7 223,268.7 222,272C221,275.3 218.7,280.3 218,282" stroke-width="0.5" stroke="#666"/>
<path d="M167.9,325C169.7,325.2 174.4,326.3 178.6,326.4C182.8,326.5 188.1,326 192.9,325.8C197.7,325.6 205.1,325.1 207.5,325" stroke-width="1.1"/>
<path d="M166.4,319.5C168,319.9 172.1,321.7 176,322.2C179.9,322.7 186,322.8 190,322.6C194,322.4 196.9,321.7 200,321C203.1,320.3 207.2,318.8 208.6,318.4" stroke-width="0.8"/>
<path d="M207.2,316.9L208.7,317.1M203.6,318.5L208.2,319.1M199.9,320.2L207.9,321.3M192.1,321.5L207.5,323.7M167.8,320L204.3,325.2M167.9,322.5L192.4,325.9M168.1,324.8L169.9,325.1" stroke-width="0.5" stroke="#666"/>
<path d="M171.4,327L172,328.1M169.8,327L172,330.9M168.4,327.1L171.6,332.6M168.1,329.1L170.2,332.7M168,331.8L168.7,332.9" stroke-width="0.5" stroke="#444"/>
<path d="M206.2,326.5L206.9,327.7M205.1,327L206.7,329.7M203.6,327.1L206.3,331.9M203.2,328.8L206,333.6M203.4,332L204.4,333.9" stroke-width="0.5" stroke="#444"/>
</g>
<!-- brain -->
<g id="brain">
<path d="M278.6,265Q279.1,258.7 282.9,253.6Q284.1,246.4 288.6,240.7Q290.6,234 295.7,229.3Q300.9,221.9 308.6,217.1Q311.7,212 317.1,209.5Q321.9,204.3 328.6,202.1Q334.2,197.5 341.4,196.2Q345.3,193.4 350,194Q355.5,191.3 361.6,192.1Q365.5,189.6 370,190.7Q372.9,188.6 376.4,189.3" stroke-width="1.5"/>
<path d="M376.4,189.3Q380,189.7 382.7,192Q386.6,193.6 389,197Q393.6,198.5 397,202" stroke-width="1.5"/>
<path d="M397,202C398.3,203 402.2,206.1 405,207.9C407.8,209.7 411,211.2 413.6,212.9C416.2,214.6 418.8,216.1 420.7,217.9C422.6,219.7 424,221.5 425,223.6C426,225.7 426.1,228.8 426.6,230.7C427.1,232.6 427.3,233.6 428,235C428.7,236.4 430.1,237.4 430.8,239.3C431.5,241.2 432.4,244 432.4,246.4C432.4,248.8 431.1,252.4 430.8,253.6" stroke-width="1.5"/>
<path d="M430.8,253.6C429.8,254.6 427.4,257.5 425,259.3C422.6,261.1 419.5,262.8 416.4,264.6C413.3,266.4 409.5,268.4 406.4,270C403.3,271.6 400.3,273.2 397.9,274.3C395.5,275.4 393.1,276.2 392.1,276.6" stroke-width="1.5"/>
<path d="M278.6,265C278.2,267.3 276.6,274 276,278.6C275.4,283.2 275.1,288.6 275,292.9C274.9,297.2 275.3,300.7 275.7,304.3C276.1,307.9 277.3,312.6 277.6,314.3" stroke-width="1.5"/>
<path d="M277.6,314.3Q278.1,320 281.2,324.7Q281.7,330.7 284.9,335.9Q287.5,341.4 292.3,345.1Q296.3,348.7 301.6,349.8Q305.4,352.2 309.9,351.8" stroke-width="1.5"/>
<path d="M309.9,351.8C310.7,352.9 312.3,356.3 314.6,358.1C316.9,359.9 320.8,362.5 323.9,362.8C327,363.1 330,361.1 333.1,360C336.2,358.9 339.3,357.2 342.4,356.3C345.5,355.4 348.9,355.3 351.7,354.4C354.5,353.5 357.4,351.6 359.1,350.7C360.8,349.8 361.4,349.2 361.9,348.9" stroke-width="1.5"/>
<path d="M361.9,337.7C361.9,339.9 361.7,346.4 361.9,350.7C362.1,355 362.7,361.4 362.9,363.5" stroke-width="1.2"/>
<path d="M362.9,363.5C363.5,363.1 365.3,362.3 366.5,361.4C367.7,360.5 369.7,358.7 370.3,358.1" stroke-width="1.1"/>
<path d="M370.3,358.1C370.6,355.6 371.5,347.7 372.1,343.3C372.8,338.9 373.9,333.8 374.2,331.9" stroke-width="1.2"/>
<path d="M365.5,340C365.6,342 365.7,348.7 365.8,352C365.9,355.3 366.3,358.7 366.4,360" stroke-width="0.6" stroke="#444"/>
<path d="M365,338.6L365.6,341.1M363.7,338.8L365.7,346.4M362.6,338.4L365.9,350.5M362.6,343.8L366.2,357.3M362.6,348.3L366,360.8M362.7,353.4L365,361.7M363,358.6L363.9,362.1" stroke-width="0.6" stroke="#222"/>
<path d="M373,333.5L373.3,334.6M371.5,334.6L372.7,339M370,335.7L372,343M369.4,339.7L371.4,347.1M369.1,344.6L370.8,351M368.9,349L370.3,354.4M368.5,354.7L369.2,357.4" stroke-width="0.5" stroke="#555"/>
<path d="M345,270C347.4,269.6 354.5,268.1 359.3,267.9C364.1,267.7 369.8,268.1 373.6,268.6C377.4,269.1 379.7,269.5 382.1,270.7C384.5,271.9 386.2,273.7 387.9,275.7C389.6,277.7 391,280 392.1,282.9C393.2,285.8 394.1,289.8 394.3,292.9C394.6,296 394.4,299 393.6,301.4C392.8,303.8 390.7,305 389.3,307.1C387.9,309.2 386,312.2 385,314.3C384,316.4 384.3,318.1 383.4,320C382.4,321.9 380.8,323.7 379.3,325.7C377.8,327.7 375.1,330.9 374.2,331.9" stroke-width="1.4"/>
<path d="M373.6,271.4C373.1,272.6 370.9,276.2 370.7,278.6C370.4,281 370.9,283.1 372.1,285.7C373.3,288.3 375.8,291.7 377.9,294.3C380,296.9 382.9,299.7 385,301.4C387.1,303.1 389.8,303.8 390.7,304.3" stroke-width="0.9"/>
<path d="M366.4,311.4C367.6,311.2 371.2,310.1 373.6,310C376,309.9 378.8,310 380.7,310.7C382.6,311.4 384.3,313.7 385,314.3" stroke-width="1"/>
<path d="M389.3,307.1C388.1,307.6 384.2,309.5 382.1,310C380,310.5 377.3,310 376.4,310" stroke-width="0.9"/>
<path d="M429.6,252.6C427.9,253.8 422.9,257.8 419.3,260C415.7,262.2 411.7,264 407.9,265.7C404.1,267.4 399.5,269 396.4,270C393.3,271 390.5,271.3 389.3,271.6" stroke-width="0.9"/>
<path d="M385,270C385.5,270.5 386.7,271.8 387.9,272.9C389.1,274 391.4,276 392.1,276.6" stroke-width="1.1"/>
<path d="M426.4,255.5L426.7,256M425.4,256.3L425.9,257.1M424.4,257L425.1,258.3M423.5,257.7L424.2,259M422.4,258.4L423,259.6M421.4,259.1L422.1,260.2M420.6,259.8L421.2,260.9M419.7,260.5L420.2,261.4M418.6,261.1L419.2,262.1M417.3,261.7L418,262.9M416.4,262.3L417.1,263.5M415.3,262.8L416,264.1M414.4,263.3L415.2,264.6M413.2,263.8L413.9,265.1M412.2,264.4L412.9,265.7M411,264.8L411.9,266.3M410,265.3L410.8,266.8M408.7,266L409.6,267.5M407.6,266.5L408.5,268M406.7,266.9L407.6,268.4M405.5,267.3L406.5,269.1M404.2,267.7L405.3,269.6M403.1,268.1L404.2,270.1M402,268.7L403.1,270.7M401,269L402.3,271.3M399.7,269.5L401,271.8M398.6,270.1L399.8,272.3M397.5,270.3L398.9,272.8M396.4,270.7L397.9,273.4M395.2,271L396.8,273.6M393.8,271.4L395.5,274.3M392.7,271.5L394.6,274.7M391.5,272.1L393.3,275.1M390.2,272.3L391.6,274.6" stroke-width="0.6" stroke="#222"/>
<path d="M312.9,268.6C313.6,269.1 314.7,270.7 317.1,271.4C319.5,272.1 323.5,272.9 327.1,272.9C330.7,272.9 334.8,272.1 338.6,271.4C342.4,270.7 346.2,269.3 350,268.6C353.8,267.9 358.1,267.1 361.4,267.1C364.7,267.1 368.6,268.4 370,268.6" stroke-width="1.1"/>
<path d="M312.9,268.6C312.6,269.8 311.2,273.6 311.4,275.7C311.6,277.8 312.9,279.5 314.3,281.4C315.7,283.3 317.4,285.8 320,287.1C322.6,288.4 326.4,289.2 330,289.3C333.6,289.4 337.6,288.7 341.4,287.9C345.2,287.1 349.3,285.4 352.9,284.3C356.5,283.2 359.9,281.8 362.9,281.4C365.9,281 369.4,282 370.7,282.1" stroke-width="1.1"/>
<path d="M304.3,287.1C305.5,286.6 309.5,284.3 311.4,284.3C313.3,284.3 315.2,285.7 315.7,287.1C316.2,288.5 314.1,291 314.3,292.9C314.5,294.8 315.4,296.9 317.1,298.6C318.8,300.3 321.7,301.8 324.3,302.9C326.9,304 329.6,305 332.9,305C336.2,305 340.5,304 344.3,302.9C348.1,301.8 352.4,300 355.7,298.6C359,297.2 362.3,294.6 364.3,294.3C366.3,294.1 367.5,295.7 367.9,297.1C368.2,298.5 367.8,301 366.4,302.9C365,304.8 361.9,306.9 359.3,308.6C356.7,310.3 353.1,311.9 350.7,312.9C348.3,313.8 345.9,314.1 345,314.3" stroke-width="1.1"/>
<path d="M332.9,305C333.1,303.7 334.2,299.1 334.3,297.1C334.4,295.1 333.7,293.6 333.6,292.9" stroke-width="0.9"/>
<path d="M307.1,295.7C307.2,297.6 307.4,304 307.9,307.1C308.4,310.2 308.5,313.3 310,314.3C311.5,315.3 314.2,313.6 317.1,312.9C320,312.2 323.5,310.7 327.1,310C330.7,309.3 334.8,309.2 338.6,308.6C342.4,308 346.2,307.3 350,306.4C353.8,305.4 359.5,303.5 361.4,302.9" stroke-width="1.1"/>
<path d="M284.3,315.7C285.7,315.6 289.8,314.8 292.9,315C296,315.2 299.8,316.3 302.9,317.1C306,317.9 308.5,320 311.4,320C314.2,320 316.7,317.9 320,317.1C323.3,316.3 328.1,315.2 331.4,315C334.7,314.8 338.1,314.9 340,315.7C341.9,316.5 342.7,318.3 342.9,320C343.1,321.7 341.6,324.8 341.4,325.7" stroke-width="1.2"/>
<path d="M352,303C352.2,303.8 352.4,306.6 353,308C353.6,309.4 355.1,310.9 355.5,311.5" stroke-width="0.8"/>
<path d="M319.1,275.7C320.6,275.9 324.7,276.9 328,276.8C331.3,276.8 335.2,276.1 339,275.4C342.8,274.7 347.2,273.3 351,272.6C354.8,271.9 359,271.3 362,271.2C365,271.1 367.8,272.1 369,272.3" stroke-width="0.5" stroke="#555"/>
<path d="M320.2,277.9C321.5,278.1 324.9,279.1 328,279C331.1,278.9 335.2,278.3 339,277.6C342.8,276.9 347.2,275.5 351,274.8C354.8,274.1 359,273.5 362,273.4C365,273.3 367.8,274.1 369,274.3" stroke-width="0.5" stroke="#555"/>
<path d="M321.3,280.1C322.4,280.3 325.1,281.3 328,281.2C330.9,281.2 335.2,280.5 339,279.8C342.8,279.1 347.2,277.7 351,277C354.8,276.3 359,275.7 362,275.6C365,275.5 367.8,276.1 369,276.2" stroke-width="0.5" stroke="#555"/>
<path d="M322.5,282.5C323.4,282.7 325.2,283.7 328,283.6C330.8,283.6 335.2,282.9 339,282.2C342.8,281.5 347.2,280.1 351,279.4C354.8,278.7 359,278.2 362,278C365,277.8 367.8,278.3 369,278.4" stroke-width="0.5" stroke="#555"/>
<path d="M333.1,272.8L332.6,275.7M334.7,272.3L334.1,275.7M336.2,272.2L335.5,276.2M337.6,272L336.8,276.8M339.3,271.6L338.8,274.2M340.6,271.2L339.8,276.1M342.4,271L341.5,276.1M343.8,270.5L342.9,275.9M345.6,270.1L344.8,274.7M347.4,269.7L346.4,275.7M349.4,269L348.4,274.5M350.7,269L349.5,275.7M352.2,268.6L351.2,274.7M354,268.3L353.3,272.4M355.7,267.9L354.6,273.7M357.3,267.8L356.3,273.7M359.2,267.3L358.6,270.5M360.7,267.2L359.8,272.2M362.5,267.2L361.7,271.7M364,267.3L363.5,270.5M365.3,267.6L364.8,270.8M366.6,268.1L366.2,270.3M368,268.5L367.5,271.6M369.5,268.5L368.9,271.8" stroke-width="0.5" stroke="#333"/>
<path d="M321,287.3L321.4,285.3M322.1,287.7L322.7,284.6M323.2,288.2L323.7,285.3M324.8,288.3L325.2,285.7M326.6,288.7L327.3,284.7M328.3,289L329,285.1M329.5,288.9L330.2,285M331.4,289L332.3,283.7M332.7,289.3L333.6,284M334,288.8L334.7,284.4M335.2,288.5L336,283.7M336.5,288.7L337.3,284.4M337.9,288.4L339,282.3M339.7,287.9L340.8,281.8M341,287.7L342.1,281.3M342.4,287.1L343.2,282.8M343.8,287L344.6,282.8M345,286.7L345.9,281.3M346.3,286L347.4,280.1M347.3,286L348.2,281M349.1,285.4L350.1,279.6M350.4,284.6L351,280.9M351.6,284.4L352.5,279.4M353.2,283.8L354,278.8M354.3,283.7L355.2,278.3M355.7,283.2L356.4,279.3M357.2,282.7L357.9,278.6M358.7,282.4L359.5,278.1M360.1,281.5L360.8,277.7M361.7,281.6L362.4,277.8M363.5,281L364.1,277.8M365.1,281.1L365.7,277.6M366.9,281.3L367.4,278.7M368.7,281.6L369,279.6M370.4,281.6L370.7,280" stroke-width="0.5" stroke="#333"/>
<path d="M370,277.4L370.3,280.8M367.7,270.6L368.6,280.9M366.3,271.1L367.2,281.2M365,271.3L365.9,281M363.5,271.2L364.4,281.2M361.8,271.7L362.7,282.1M360.4,272.1L361.2,281.5M358.8,271.5L359.7,281.8M357.5,272.1L358.4,281.9M355.8,271.9L356.8,282.7M354.3,272.1L355.2,282.6M352.9,272.2L353.9,282.8M351.6,272.3L352.5,283.2M350.1,272.5L351,283.4M348.4,273.3L349.4,284.2M347,273L348,284.2M345.5,273.7L346.5,284.8M344.2,273.6L345.2,285.3M342.5,273.6L343.5,285.2M341,273.9L342.1,286.1" stroke-width="0.5" stroke="#333"/>
<path d="M321,290.6C322.5,291 326.6,292.8 330,293C333.4,293.2 337.6,292.4 341.4,291.6C345.2,290.8 349.3,289 352.9,288C356.5,287 361.3,285.8 363,285.4" stroke-width="0.5" stroke="#555"/>
<path d="M321,292.6C322.5,293 326.6,294.8 330,295C333.4,295.2 337.6,294.4 341.4,293.6C345.2,292.8 349.3,291 352.9,290C356.5,289 361.3,287.8 363,287.4" stroke-width="0.5" stroke="#555"/>
<path d="M321,294.6C322.5,295 326.6,296.8 330,297C333.4,297.2 337.6,296.4 341.4,295.6C345.2,294.8 349.3,293 352.9,292C356.5,291 361.3,289.8 363,289.4" stroke-width="0.5" stroke="#555"/>
<path d="M370.3,284L370.4,284.9M368.9,283.9L369.4,286.9M367.6,284.1L368.3,288.7M366.2,284.1L367.1,290.9M364.7,283.5L366,292.8M363.4,283.7L364.7,292.8M362.2,284.2L363.5,293.3M361,284.8L362.4,294.4M359.7,285.3L361,294.4M358.3,285L359.6,294.7M356.9,286L358.3,295.9M355.6,286L357,296.3M354.4,286.5L355.8,296.7M353,286.5L354.4,296.8M351.7,287.5L353.1,297.6M350.3,287.7L351.7,298M349.1,288.2L350.5,298.7M347.8,288.1L349.4,299.3M346.7,289.1L348.1,299.5M345,288.9L346.6,300.1M343.7,289.9L345.3,300.7M342.5,289.8L344.1,301.3M341.3,290.4L342.9,301.3M339.8,290.7L341.3,301.7M338.7,291.1L340.2,301.9M337.4,291.8L338.9,302.3M335.9,292.2L337.2,301.9M335.3,297.4L336.1,302.5" stroke-width="0.5" stroke="#222"/>
<path d="M317.3,291L322.9,290.5M316.7,292.3L329.5,291.2M316.6,293.8L330.4,292.6M317.1,295.2L330.4,294.1M318,296.9L330.9,295.8M319.2,298.2L330.9,297.1M321.3,299.6L331.7,298.7M323.9,300.8L331.8,300.2M327.4,302L332.6,301.5M332.4,302.9L332.9,302.8" stroke-width="0.5" stroke="#444"/>
<path d="M354.7,301.7L354.8,302.3M353.7,302L353.8,302.8M352.4,302.6L352.5,303.6M351.2,302.9L351.4,304.2M350,303.4L350.2,304.8M348.7,303.8L348.9,305.2M347.2,304.3L347.4,305.4M346.1,304.7L346.3,305.7M344.9,305L345,305.9M343.4,305.3L343.6,306.2M342.3,305.4L342.5,306.4M341,305.6L341.1,306.7M339.7,305.8L339.8,306.8M338.5,305.9L338.6,307.1M337.2,306L337.4,307.3M336,306.3L336.1,307.4M334.6,306.4L334.8,307.7M333.3,306.6L333.5,307.8M331.9,306.4L332.1,308M330.5,306L330.8,308.1M329.3,305.8L329.6,308.3M327.9,305.5L328.2,308.2M326.5,305.4L326.9,308.4M325.1,305L325.6,308.8M323.7,304.6L324.3,308.9M322.3,303.9L323.1,309.5M320.8,302.9L321.8,310M319.6,302.1L320.8,310.2M318,301.3L319.3,310.7M316.6,301L318,311.1M315.5,300.6L317,311.1M314,301.1L315.4,311.2M312.8,300.6L314.3,311.6M311.4,300.2L313,311.7M310,300.6L311.6,312.4" stroke-width="0.5" stroke="#222"/>
<path d="M364.9,304.8L365.8,311M363.9,306L364.7,311.8M362.8,306.1L363.7,312.5M361.6,306.9L362.6,313.8M360.4,308L361.4,314.7M359.2,308.4L360.3,316M358.1,308.9L359.3,316.9M356.9,309L358.1,317.4M356,309.9L357.1,317.8M354.8,309.8L356,318.1M353.5,310.2L354.6,317.9M352.5,310.5L353.6,318.5M351.2,311.3L352.1,318.2M350,311.3L351.1,318.9M348.8,311.7L349.9,319.2M347.8,311.7L348.8,318.8M346.4,312.1L347.4,319M345.5,312.8L346.4,319.1M344.2,313.1L345.2,319.6M343.2,312.9L343.9,318.3M341.9,312.7L342.2,314.7M340.7,312.8L341,314.5M339.4,313L339.7,314.8M338.1,313.1L338.3,314.9M337,313.1L337.2,315.2M335.7,313.2L336,315.4M334.6,313.3L334.9,315.7M333.5,313.3L333.9,315.8M332.2,313.6L332.5,316M331.1,313.7L331.5,316.3M329.8,313.7L330.1,316.4M328.6,314.1L329,316.6M327.4,314.3L327.8,316.9M326.2,314.3L326.6,317.2M325,314.5L325.4,317.3M323.9,314.7L324.3,317.8M322.7,314.8L323.2,317.8M321.4,315.3L321.8,318M320.4,315.2L320.8,318.2M319.2,315.5L319.6,318.6M317.8,315.4L318.3,319M316.8,315.6L317.3,319M315.7,315.7L316.2,319.4M314.4,315.5L315,319.8M313.1,316L313.7,320.1M312,316.3L312.6,320.6" stroke-width="0.6" stroke="#222"/>
<path d="M373.8,272.6C375.1,272.9 379.4,273.5 381.5,274.7C383.6,275.8 385.1,277.3 386.4,279.2C387.7,281.1 388.8,283.5 389.5,286C390.2,288.5 390.7,291.5 390.7,294C390.7,296.5 390.4,299.1 389.6,301C388.8,302.9 386.5,304.8 385.9,305.6" stroke-width="0.5" stroke="#333"/>
<path d="M373.6,273.6C374.7,274 378.3,274.7 380.1,275.8C381.8,276.9 383.1,278.3 384.3,280C385.5,281.7 386.7,283.7 387.4,286C388.1,288.3 388.6,291.5 388.6,294C388.6,296.5 388.3,299.1 387.6,301C386.9,302.9 384.8,304.5 384.2,305.2" stroke-width="0.5" stroke="#333"/>
<path d="M373.4,274.6C374.2,275 377.1,276 378.6,277C380.1,278 381.1,279.2 382.2,280.7C383.3,282.2 384.6,283.8 385.3,286C386,288.2 386.4,291.5 386.5,294C386.6,296.5 386.3,299.2 385.6,301C385,302.8 383.1,304.1 382.6,304.7" stroke-width="0.5" stroke="#333"/>
<path d="M373.2,275.7C373.8,276.1 376,277.2 377.1,278.1C378.3,279.1 379.1,280.1 380.1,281.4C381.1,282.8 382.5,283.9 383.2,286C383.9,288.1 384.3,291.5 384.4,294C384.5,296.5 384.2,299.3 383.6,301C383,302.7 381.3,303.8 380.9,304.3" stroke-width="0.5" stroke="#333"/>
<path d="M372.9,276.8C373.4,277.2 374.8,278.4 375.6,279.3C376.5,280.2 377.1,281.1 378,282.2C378.9,283.3 380.4,284 381.1,286C381.8,288 382.2,291.5 382.3,294C382.4,296.5 382.1,299.4 381.6,301C381.1,302.6 379.6,303.4 379.2,303.9" stroke-width="0.5" stroke="#333"/>
<path d="M372.7,277.8C373,278.2 373.7,279.6 374.2,280.4C374.7,281.3 375.1,282 375.9,282.9C376.7,283.8 378.3,284.2 379,286C379.7,287.8 380.1,291.5 380.2,294C380.3,296.5 380.1,299.4 379.6,301C379.2,302.6 377.9,303.1 377.5,303.5" stroke-width="0.5" stroke="#333"/>
<path d="M388,276.3L386.1,276.8M388.3,277.2L386.5,277.7M389.3,278L388.1,278.3M389.9,279L387.8,279.6M390.2,279.9L387.9,280.5M391.2,281L388.5,281.7M391.2,282.2L388.2,283M391.8,283.2L388.6,284M392.2,284.6L390,285.1M393,285.8L390.1,286.6M393.2,286.8L391,287.4M393.4,287.8L390.2,288.6M393.3,289.2L389.7,290.1M393.5,290.6L389.9,291.5M393.6,292L390.3,292.9M394.3,292.9L392,293.5M394.1,293.9L391.3,294.7M394.4,295.2L390.9,296.1M394.2,296.4L391.2,297.2M394.1,297.3L391.1,298.2M393.7,298.7L390.9,299.5M393.5,300.2L391.7,300.6M393.6,301.3L391.5,301.9M392.7,302.5L390.7,303.1M392.2,303.7L390.3,304.2M391.1,304.7L389,305.3M390.6,305.5L389.1,305.9M389.8,306.5L388.2,306.9" stroke-width="0.5" stroke="#222"/>
<path d="M388.2,305.1L388.4,305.9M386.5,303.8L386.9,306.3M384.5,302.6L385.3,307M382.6,300.7L383.9,307.5M380.8,298.8L382.4,307.8M379.2,297.2L381.2,308.4M377.3,295.4L379.6,308.3M375.6,293.2L378.2,308M373.5,290.9L376.6,308.7M371.8,289.8L375.1,308.3M369.8,287.7L373.6,308.7M368.4,288.7L371.9,308.7M367.3,291.1L367.9,294.6M368.7,299.4L370.5,309.3M367.9,302.9L368.9,308.8" stroke-width="0.5" stroke="#333"/>
<ellipse cx="378.4" cy="280.4" rx="5.2" ry="6.6" transform="rotate(-25 378.4 280.4)" fill="#fff" stroke="#111" stroke-width="1.3"/>
<path d="M375.2,282.6C375.6,283.1 376.4,285.1 377.4,285.6C378.4,286.1 380,286.3 381,285.8C382,285.3 382.8,283 383.2,282.4" stroke-width="0.9"/>
<path d="M375.5,283L375.2,280.3M376,284L375.8,281.1M376.9,285.2L376.8,283.5M377.9,285.6L377.6,282.7M378.9,286.3L378.7,284.2M380.1,286.1L379.9,284.2M381,285.9L380.8,284.2M381.7,285L381.5,283M382.5,284.3L382.3,282.6M383.1,282.8L382.8,279.9" stroke-width="0.5" stroke="#444"/>
<path d="M375.4,278C375.7,277.6 376.5,276.1 377.2,275.6C377.9,275.1 379.4,275.3 379.8,275.2" stroke-width="0.6" stroke="#666"/>
<path d="M380.9,286.8L383.6,292.9" stroke-width="1"/>
<path d="M382.3,313.8L383.3,315.5M380.1,312L383,316.9M379,312.4L382.5,318.5M377.2,311.8L381.9,320M376,312.1L381.4,321.3M375,311.9L380.7,321.9M373.5,311.8L379.9,322.8M372.1,311.8L379.1,323.9M371.3,312.2L378.4,324.6M370.1,312.3L377.7,325.5M369.1,312.7L377.1,326.6M367.7,312.8L376.1,327.3M372.2,322.5L375.8,328.7M371.8,324.3L375,329.7M371.6,326.1L373.9,330.1M371.3,328L372.5,330.1" stroke-width="0.6" stroke="#111"/>
<path d="M285.7,254.3C285.2,256 283.5,261 282.9,264.3C282.3,267.6 281.9,271.9 282.1,274.3C282.3,276.7 283.9,277.9 284.3,278.6" stroke-width="0.9"/>
<path d="M284.3,268.6C284.8,267.9 285.9,265.1 287.1,264.3C288.3,263.5 290.7,262.2 291.4,263.6C292.1,265 291.6,269.2 291.4,272.9C291.2,276.6 290,282.4 290,285.7C290,289 291.2,291.7 291.4,292.9" stroke-width="0.9"/>
<path d="M294.3,262.9C295,262.8 297.5,261.2 298.6,262.1C299.7,263.1 300.5,265.9 300.7,268.6C300.9,271.4 300.4,275.3 300,278.6C299.6,281.9 298.7,285.8 298.6,288.6C298.5,291.5 299.2,294.5 299.3,295.7" stroke-width="1"/>
<path d="M294.3,262.9C294.1,264.4 293.7,268.8 293.4,272C293.1,275.2 292.6,279 292.6,282C292.6,285 293.3,288.7 293.4,290" stroke-width="0.8"/>
<path d="M295.7,229.3C296.1,230.7 297.9,235.1 297.9,237.9C297.9,240.8 296.5,243.8 295.7,246.4C294.9,249 293.4,251.2 292.9,253.6C292.4,256 292.9,259.5 292.9,260.7" stroke-width="1"/>
<path d="M295.7,229.3C296.1,229.8 296.7,231.4 297.9,232.1C299.1,232.8 301.2,234.1 302.9,233.6C304.6,233.1 307.1,230 307.9,229.3" stroke-width="0.9"/>
<path d="M288.8,241.7L291.4,242.9M287.5,243.5L290,244.6M286.9,245.5L289.3,246.6M286.2,247.2L289.9,248.9M285.6,249.2L288.5,250.6M284.8,251L287,252M284.2,252.6L286.6,253.7" stroke-width="0.5" stroke="#555"/>
<path d="M297.6,238.8L296.4,238.3M296.7,240.2L295,239.6M296.5,241.8L294.1,240.9M296,243.7L293.3,242.8M295.6,245.6L292.5,244.5M294.9,247L292.2,246.1M294.7,248.8L290.9,247.4M293.9,250.1L292.1,249.4M293.6,251.9L292.2,251.4" stroke-width="0.5" stroke="#555"/>
<path d="M301.2,269.6L302.7,269.9M300.6,270.9L302.5,271.2M300.8,272.9L303.1,273.3M300.4,274.4L303.5,275M300.3,275.8L303.2,276.3M300.5,277.3L303.1,277.8M299.9,279.4L303.3,280M299.7,281.3L303.4,281.9M299.5,283.3L301.9,283.7M299.4,284.7L302.8,285.3M298.9,286.8L301.5,287.2M299.2,288.4L301.3,288.8M298.8,289.9L300.5,290.2M299.1,291.3L301.1,291.7M299,293.2L300.4,293.4M299.5,295L301.1,295.3" stroke-width="0.5" stroke="#555"/>
<path d="M291.4,273.9L293.1,274.2M291.4,275.7L293,276M291.1,278.1L293.3,278.5M291,280L293.7,280.5M290.4,281.7L292.2,282M290.3,283.6L293.4,284.1M290.6,285.8L293.1,286.2M290.3,287.3L292.9,287.8M290.8,289L292.9,289.3M291.4,291L292.5,291.2M291.8,292.8L293,293" stroke-width="0.5" stroke="#666"/>
<path d="M278.6,265.9L280.4,266.5M278.6,267.3L280.1,267.9M277.8,268.8L281.1,269.9M278,270.4L280.2,271.2M277.4,272.3L281.5,273.7M277,273.5L280.2,274.7M276.8,274.8L280.5,276.2M276.9,276.3L280.6,277.7M276.1,278.2L279.8,279.5M276.1,280.2L278.9,281.2M276,281.5L280.9,283.3M275.9,283.2L278.8,284.3M275.5,285.2L278.6,286.3M275.5,287L279.4,288.4M275.4,288.8L278.8,290M275.2,290.7L277.5,291.5M275.3,292.1L277.8,293" stroke-width="0.5" stroke="#555"/>
<path d="M303.6,247.9C304.2,247.4 305.8,245.2 307.1,245C308.4,244.8 310.6,245.5 311.4,246.4C312.2,247.3 312.7,249.3 312.1,250.7C311.5,252.1 309.2,253.6 307.9,255C306.6,256.4 305,257.6 304.3,259.3C303.6,261 303.5,262.9 303.6,265C303.7,267.1 304.8,270.8 305,272" stroke-width="1"/>
<path d="M299.6,250C299.7,251 300.5,254 300.4,256C300.3,258 299.4,261 299.2,262" stroke-width="0.7"/>
<path d="M311.9,251.4L314.1,252.2M310.8,252.6L312.7,253.2M309.8,253.6L312.4,254.5M308.4,254.7L310.6,255.5M307.1,255.9L310.8,257.3M305.7,257.4L308.2,258.2M305.2,258.4L308.3,259.6M304.5,260.2L306.7,261M304,261.3L306.7,262.3M304.1,262.9L305.6,263.4M303.8,264.1L306,264.9" stroke-width="0.5" stroke="#555"/>
<path d="M328.6,202.1C328.4,203.5 326.6,207.8 327.1,210.7C327.6,213.6 329.5,216.9 331.4,219.3C333.3,221.7 336.2,223.6 338.6,225C341,226.4 344.5,227.4 345.7,227.9" stroke-width="1.1"/>
<path d="M308.6,217.1C308.5,218.4 307.2,222.2 307.9,225C308.6,227.8 311.1,230.8 312.9,233.6C314.7,236.4 316.2,240 318.6,242.1C321,244.2 324.2,245.1 327.1,246.4C330,247.7 333,248.9 336,250C339,251.1 343.5,252.5 345,253" stroke-width="1.1"/>
<path d="M317.1,210C317.4,211.6 317.4,216.3 318.6,219.3C319.8,222.3 322.4,225.1 324.3,227.9C326.2,230.8 327.9,233.6 330,236.4C332.1,239.2 335,242.4 337.1,245C339.2,247.6 341.9,250.9 342.9,252.1" stroke-width="1"/>
<path d="M341.4,196.4C341.9,197.8 343.4,202.1 344.3,205C345.2,207.9 346.9,211 347.1,213.6C347.3,216.2 345.9,219.5 345.7,220.7" stroke-width="1"/>
<path d="M350,194.3C350.5,195.6 352.5,199.4 352.9,202.1C353.2,204.8 351.6,208.5 352.1,210.7C352.6,212.8 355.1,214.3 355.7,215" stroke-width="1"/>
<path d="M358.6,203.6C359.1,202.9 359.5,200.5 361.4,199.3C363.3,198.1 368.6,196.9 370,196.4" stroke-width="0.9"/>
<path d="M328.5,203.2L329.6,206.3M327.9,205.2L329.4,209.5M327.4,206.7L329.2,211.5M327.3,208.9L328.8,212.8M327.2,210.2L329,215.2M327.5,212.3L328.7,215.5M328,213.7L330.3,220.2M328.7,215.3L331.1,221.9M329.5,216.6L331.8,223.1M330.6,218.5L332.8,224.5M331.3,219.2L333.4,224.8M332.9,221.2L335.3,227.8M333.9,221.9L335.9,227.5M335.1,223.1L336.6,227.3M336.8,224.2L338.3,228.3M338.4,225.2L339.9,229.4M339.6,225.6L340.9,229.1M341.6,226.8L343,230.7M343.2,227.2L344.3,230.3M345.1,228L346,230.5" stroke-width="0.5" stroke="#444"/>
<path d="M308.5,218.4L309.3,221.1M308.3,220L309,222.6M307.9,221L308.5,223.4M307.8,223.4L308.5,226.3M308,225.3L309.4,230.5M308.7,227.3L309.5,230.3M309.8,229.2L311.2,234.5M310.9,230.8L312.5,236.9M312,232.5L313,236.2M313.2,234L314.4,238.5M314.1,235.7L315.2,239.9M314.8,236.8L316,241.5M315.8,238.8L317.2,243.8M316.8,240.5L318,244.9M318.2,241.8L319.9,248.1M319.6,243.1L321,248.3M320.8,244L322.2,249.2M322.7,244.9L324.4,251.2M324.7,245.9L326.3,251.8M326.7,246.6L327.8,250.6M328.6,247.4L329.9,252.4M330.2,247.9L331,250.7M331.8,248.8L332.8,252.4M333.3,249.4L334.1,252.3" stroke-width="0.5" stroke="#444"/>
<path d="M317.3,211.3L318,213.1M317.4,212.9L318.2,215M317.6,214.4L318.4,216.7M317.8,216L318.6,218.1M318.2,218.1L319.9,222.7M319,220.2L320,223M319.8,221.7L320.8,224.6M321,223.6L322.6,228M322,225L324.2,231M323.2,226.4L324.5,230.2M324.2,227.8L326.4,233.9M325.1,229.1L327.4,235.3M326.3,231.1L327.8,235.2M327.4,232.8L328.7,236.5M328.4,234.4L330,238.9M329.6,236.1L331.2,240.5M330.4,237L332.3,242M331.8,238.9L334.1,245.1M332.7,239.9L334.4,244.7M333.8,241.2L335.1,244.6M335.1,242.8L336.2,245.9M336.1,243.8L337.3,247.3M337.2,245.2L339,250.2M338.3,246.7L339.5,250M339.1,247.5L340.2,250.5M340.4,249L341.5,252M341.9,251.1L342.8,253.4" stroke-width="0.5" stroke="#444"/>
<path d="M341.7,197.3L342.3,200.5M342.3,199L342.7,201.6M343,201.1L343.6,204.9M343.6,203.1L344.5,208.3M344.2,204.9L345.1,209.9M344.7,206.3L345.6,210.9M345.4,208.1L346.5,214.3M346.1,209.9L347,215.2M346.6,211.5L347.4,216.1M347,213L347.6,216.3M347.1,214.8L347.6,217.7M346.9,217.2L347.4,220.2M346.5,218.3L347,221.3M346,220.2L346.5,223" stroke-width="0.5" stroke="#555"/>
<path d="M350.3,194.9L349.4,192.4M351.3,197.1L350.5,195.1M352,199L350.8,195.7M352.6,200.9L351.4,197.7M352.8,203.5L351.1,198.7M352.5,206L350.7,201M352.1,208L350.6,203.9M351.9,209.8L351,207.3M352.8,212.1L351.9,209.6M354.2,213.5L353.4,211.4" stroke-width="0.5" stroke="#666"/>
<path d="M318.8,201.1L319.2,203M320.8,202.5L321.4,206.1M322.4,203.8L323.1,207.9M324.2,205.3L325,210M325.2,206.8L325.9,210.6M326.3,209.1L326.6,210.9M327,210.5L327.3,212.3" stroke-width="0.5" stroke="#666"/>
<path d="M332.8,213L333.6,216M333.9,213.6L334.6,216.5M335.1,215.1L335.9,217.8M336.3,215.6L337.1,218.7M337.6,216.7L339,221.9M339.6,217.6L340.7,221.9M341,217.9L341.6,220.1M342.4,218.6L342.8,220.3" stroke-width="0.5" stroke="#666"/>
<path d="M318,244C318.8,245 321.5,248 323,250C324.5,252 326.3,255 327,256" stroke-width="0.5" stroke="#444"/>
<path d="M321.2,244.9C322,245.9 324.7,248.9 326.2,250.9C327.7,252.9 329.5,255.9 330.2,256.9" stroke-width="0.5" stroke="#444"/>
<path d="M324.4,245.8C325.2,246.8 327.9,249.8 329.4,251.8C330.9,253.8 332.7,256.8 333.4,257.8" stroke-width="0.5" stroke="#444"/>
<path d="M327.6,246.7C328.4,247.7 331.1,250.7 332.6,252.7C334.1,254.7 335.9,257.7 336.6,258.7" stroke-width="0.5" stroke="#444"/>
<path d="M330.8,247.6C331.6,248.6 334.3,251.6 335.8,253.6C337.3,255.6 339.1,258.6 339.8,259.6" stroke-width="0.5" stroke="#444"/>
<path d="M334,248.5C334.8,249.5 337.5,252.5 339,254.5C340.5,256.5 342.3,259.5 343,260.5" stroke-width="0.5" stroke="#444"/>
<path d="M337.2,249.4C338,250.4 340.7,253.4 342.2,255.4C343.7,257.4 345.5,260.4 346.2,261.4" stroke-width="0.5" stroke="#444"/>
<path d="M340.4,250.3C341.2,251.3 343.9,254.3 345.4,256.3C346.9,258.3 348.7,261.3 349.4,262.3" stroke-width="0.5" stroke="#444"/>
<path d="M343.6,251.2C344.4,252.2 347.1,255.2 348.6,257.2C350.1,259.2 351.9,262.2 352.6,263.2" stroke-width="0.5" stroke="#444"/>
<path d="M305.2,296.2L306.2,297.4M302.9,297L306.7,301.8M300.7,297.3L307.6,306M297.7,296.3L308.7,310.4M283.6,281L287.3,285.7M294.5,295L309,313.6M282.7,283.1L307,314.1M281.4,284.8L304.8,314.8M280.2,286L303.3,315.6M279.2,288L300.3,315.1M277.8,289.1L298.1,315M277.1,291.4L295,314.4M277,294.2L292.4,313.9M277,297.6L289.8,314M276.8,300.4L287.2,313.8M277.9,304.5L285.4,314.1M278.9,309.3L280.2,311" stroke-width="0.6" stroke="#333"/>
<path d="M277.5,296C278.4,296.7 281.2,298.3 283,300C284.8,301.7 286.7,303.8 288,306C289.3,308.2 290.5,311.8 291,313" stroke-width="0.8"/>
<path d="M283,283C283.7,284.2 286.1,287.5 287,290C287.9,292.5 288.2,296.7 288.4,298" stroke-width="0.7"/>
<path d="M347.9,217.9C349.1,216.6 351.5,215.5 353.6,215.7C355.7,215.9 358.6,218.2 360.7,219.3C362.8,220.4 365,220.9 366.4,222.1C367.8,223.3 369.1,225 369.3,226.4C369.6,227.8 369.1,229.8 367.9,230.7C366.7,231.6 363.8,231.1 362.1,232.1C360.4,233.1 359.3,235.9 357.9,236.4C356.5,236.9 354.8,236.2 353.6,235C352.4,233.8 351.9,231.2 350.7,229.3C349.5,227.4 346.9,225.5 346.4,223.6C345.9,221.7 346.7,219.2 347.9,217.9Z" stroke-width="1.1"/>
<path d="M360.6,225C360.9,225.7 362,228 362.2,229.2C362.4,230.4 361.7,231.5 361.6,232" stroke-width="0.8"/>
<path d="M354.5,229.6L356,233.6" stroke-width="0.7"/>
<path d="M357.5,235.9L358.2,234.6M356.4,235.9L357.1,234.7M355.2,235.4L356,234.1M354.1,235L355.2,232.9M353.1,233.8L354.2,231.9M352.4,232.7L353.7,230.5M352,231.5L353,229.7M351.4,230.3L352,229.3M350.7,229.3L351.2,228.5" stroke-width="0.5" stroke="#444"/>
<path d="M349.3,219.3C350,218.4 351.9,215.8 353.6,213.6C355.3,211.4 357.4,208.9 359.3,206.4C361.2,203.9 362.9,200.6 365,198.6C367.1,196.6 369.7,194.7 372.1,194.3C374.5,193.9 377.2,195.1 379.3,196.4C381.4,197.7 383.3,200.2 385,202.1C386.7,204 388.8,206 389.3,207.9C389.8,209.8 388.8,211.5 387.9,213.6C386.9,215.7 385.3,218.6 383.6,220.7C381.9,222.8 379.6,224.5 377.9,226.4C376.2,228.3 374.3,231.2 373.6,232.1" stroke-width="1.2"/>
<path d="M366.4,219.3C366.9,217.9 368.4,213.3 369.3,210.7C370.2,208.1 370.9,205 372.1,203.6C373.3,202.2 375.1,201.6 376.4,202.1C377.7,202.6 379.5,204.5 380,206.4C380.5,208.3 380,211.2 379.3,213.6C378.6,216 376.9,218.3 375.7,220.7C374.5,223.1 372.7,226.7 372.1,227.9" stroke-width="1.1"/>
<path d="M366.9,218.6L367.9,218.8M367.2,217.3L368.4,217.6M368,216.2L369.9,216.6M368.2,215.1L370.3,215.4M368.5,213.5L370.2,213.8M369,212.3L372.6,212.9M369.5,211L372.3,211.5M370,209.9L373.3,210.5M370.5,208.5L373.5,209M370.7,206.7L373.7,207.2M371.4,205.3L374.3,205.8M372.3,203.9L374.5,204.3M373.7,202.9L376,203.3M375.2,202.4L377.1,202.8M376.4,202.2L377.9,202.5" stroke-width="0.5" stroke="#555"/>
<path d="M373,209.6L373.3,211.7M373.7,210.9L374.1,213.5M374.6,212.1L375.1,215M375.5,212.8L376,215.8M376.6,213L377.1,215.8M377.5,212.9L377.9,215" stroke-width="0.5" stroke="#555"/>
<path d="M349.8,219L349.4,221.1M350.7,217.6L350.4,219.6M352,216.1L351.4,219.2M353.4,214.1L353,216M354.7,212.5L354.1,216.4M355.9,211L355.2,214.7M357.1,209.6L356.5,213.2M358.4,207.7L357.6,212.3M359.6,206.3L358.9,210.1M360.5,204.9L359.7,209.4M361.5,203.2L361.1,205.5M362.8,201.4L362.3,204.1M364.1,199.9L363.7,202.3M365.5,198.4L364.9,201.9M366.9,197.3L366.6,199.4M368.2,196.4L367.9,198.1M369.6,196.1L369.2,198.5M371.2,194.9L371,196.3" stroke-width="0.5" stroke="#666"/>
<path d="M385.5,202.7L384,202.5M386.6,204L385,203.7M387.7,205.5L386,205.2M388.5,207L385.8,206.6M389.4,208.6L385.7,207.9M389.2,210.6L386.4,210.1M388.2,211.9L384.2,211.2M387.8,213.7L384.4,213.1M386.6,215L384,214.5M385.5,216.8L383.7,216.4M385.1,218.3L383.4,218M384,219.7L382.3,219.4" stroke-width="0.5" stroke="#555"/>
<path d="M390.7,209.3C391.6,210 394.5,211.5 396.4,213.6C398.3,215.7 400.9,219.5 402.1,222.1C403.3,224.7 403.8,227.4 403.6,229.3C403.4,231.2 401.2,232.9 400.7,233.6" stroke-width="1"/>
<path d="M392.9,221.4C393.2,221.8 394.3,223.3 395,223.6C395.7,223.9 396.8,223.4 397.1,223.4" stroke-width="0.8"/>
<path d="M387.8,214.4L390.3,215.3M386.9,215.6L389.7,216.6M386.2,216.9L388.1,217.7M385.3,218.7L388.7,220M384.4,220.2L388.2,221.6M383.2,221.2L385.9,222.2M382.3,222.2L385.7,223.5M381.1,223.4L384.5,224.7M380.1,224.4L383.7,225.8M378.6,225.7L382.1,227M378,226.7L382.3,228.3M376.8,227.7L380.4,229M376,229.4L379.5,230.6M375.4,230.4L377.6,231.2M374.1,231.7L375.6,232.2" stroke-width="0.5" stroke="#555"/>
<path d="M398.6,239.3C399,238.5 399.1,235.7 400.7,234.3C402.2,232.9 405.3,231.8 407.9,230.7C410.5,229.6 414,228.1 416.4,227.9C418.8,227.7 420.7,228.4 422.1,229.3C423.5,230.2 424.5,232.9 425,233.6" stroke-width="1"/>
<path d="M399.3,242.1C398.8,240.4 400.7,237.6 402.1,236.4C403.5,235.2 406.2,234.5 407.9,235C409.6,235.5 411.6,237.6 412.1,239.3C412.6,241 411.9,243.8 410.7,245C409.5,246.2 406.9,246.9 405,246.4C403.1,245.9 399.8,243.8 399.3,242.1Z" stroke-width="1"/>
<path d="M411,238.2L411.8,240.3M408.8,236.3L411.1,242.6M407.1,235.3L410.4,244.3M405.9,235.9L409.1,244.7M404.9,236.5L408.1,245.4M403.4,236.8L406.5,245.3M402,236.6L405.5,246.1M401.5,238.8L403.8,245.1M400.6,239.7L402.3,244.2M399.8,241.2L400.4,242.8" stroke-width="0.5" stroke="#444"/>
<path d="M370.7,235C371.4,234.8 373.1,233.6 375,233.6C376.9,233.6 380.2,233.8 382.1,235C384,236.2 385,239.3 386.4,240.7C387.8,242.1 389,242.9 390.7,243.6C392.4,244.3 395.4,244.8 396.4,245" stroke-width="1"/>
<path d="M369.3,240.7C370,241.2 372.1,242.9 373.6,243.6C375.2,244.3 377.9,243.3 378.6,245C379.3,246.7 377.8,250.3 377.9,253.6C378,256.9 379.1,263.1 379.3,265" stroke-width="0.9"/>
<path d="M378.6,245C379.2,244.6 381.5,243.4 382.5,242.4C383.5,241.4 384.2,239.6 384.6,239" stroke-width="0.8"/>
<path d="M352.1,237.9C352.2,239.6 352.4,245.1 352.9,247.9C353.4,250.8 353.7,253.6 355,255C356.3,256.4 359.3,256.9 360.7,256.4C362.1,255.9 363.2,254.5 363.6,252.1C364,249.7 362.9,244.9 362.9,242.1C362.9,239.2 363.5,236.2 363.6,235" stroke-width="1"/>
<path d="M352.3,238.6L353.5,238.6M352.6,240.1L354.8,240.1M352.3,241.8L355,241.8M352.6,243.5L354.2,243.5M352.9,245.2L355.8,245.2M353,246.7L355.9,246.7M353,248L355,248M353.7,249.1L356.8,249.1M353.7,250.4L355.7,250.4M354.1,252.1L355.9,252.1M354.6,253.7L356.5,253.7" stroke-width="0.5" stroke="#555"/>
<path d="M363.2,251.3L362.1,251.3M363.2,249.8L361.8,249.8M363,248.1L360.9,248.1M362.5,246.4L360.3,246.4M362.5,244.9L359.5,244.9M362.4,243.2L359.8,243.2M362.7,241.4L360.8,241.4M362.6,240.1L361.1,240.1M363.1,238.6L361.5,238.6M363.1,237.4L361.1,237.4M362.9,235.9L361.4,235.9" stroke-width="0.5" stroke="#666"/>
<path d="M422.1,222.1L424.8,227.9M418.1,217.8L423.4,229.2M414.9,215.3L420.5,227.3M412.7,213.9L418.9,227.1M409.8,212.2L416.5,226.5M407.3,210.5L414.7,226.2M404.5,208.8L413,227.2M401.4,206.3L411.6,228.1M399,204.5L410,228.2M397.2,205.5L408,228.7M396,207.1L399,213.5M404,224.2L406,228.5M394.9,208.5L396.3,211.4" stroke-width="0.5" stroke="#333"/>
<path d="M391.2,209.5L390.3,207.8M392.8,210.5L391.9,208.9M394.4,211.8L393.6,210.4M395.8,213L394.8,211.2M397,214.1L395.4,211.5M398,215.4L396.9,213.6M398.8,216.6L397.2,213.8M399.7,217.9L398.7,216.3M400.6,219.4L399,216.6M401.5,220.9L399.8,217.9M402.3,222.6L401.1,220.5M402.7,223.9L401.2,221.3M403.2,225.8L401.9,223.5M403.6,227.8L402.4,225.8M403.5,229.7L402.5,228M402.7,230.7L401.8,229.2M401.5,232L400.7,230.6" stroke-width="0.5" stroke="#666"/>
<path d="M426.5,236.5L427.4,236.7M425.4,237.8L428.3,238.3M424.3,239L428.8,239.8M423.3,240L429.7,241.2M421.2,241.3L430.2,242.9M420.1,242.4L430.7,244.2M417.7,243.2L430.6,245.5M416.7,244.3L431.3,246.9M414.9,245.4L430.6,248.2M412.5,246.5L430.2,249.7M409.4,247.2L429.9,250.9M404.6,247.9L428.8,252.2M400.9,248.5L427.6,253.2M392.1,248.4L426.5,254.4M391.7,249.8L425.5,255.8M391.3,250.9L424.6,256.7M390.6,252L423.2,257.8M393.5,254.1L421.1,258.9M409.9,258.4L419.3,260.1M409,259.6L417.7,261.1M407.5,260.7L415.8,262.2M406,261.6L414.2,263.1M404.4,263L411.9,264.3M403.8,264.2L410.3,265.3M402,265.1L408.5,266.3M400.4,266.3L406.8,267.5M399.1,267.4L404.8,268.4M397.4,268.4L402.4,269.3M395.2,269.4L400.4,270.3M396.7,271.1L398.4,271.4" stroke-width="0.6" stroke="#222"/>
<path d="M428.8,239.2L431.2,245.7M426.4,237.1L430.6,248.7M424.8,238.2L429.4,251.1M423.7,239.3L428.6,252.8M422.6,241L427.3,253.9M421.1,242L425.8,255M419.8,242.3L424.9,256.4M418.3,243.1L423.6,257.5M416.8,244.2L422,258.4M415.5,244.7L420.8,259.4M414,245.5L419.3,260M412.8,246.8L418,261M411.1,247.5L416.3,261.6M409.8,247.7L415.2,262.6M407.8,247.6L413.5,263.5M406.5,248L412.4,264.2M404.6,248.3L407.9,257.3M408.6,259.3L410.8,265.2M403.1,248.2L406.2,257M407.4,260.3L409.5,265.8M401.4,248.9L404.2,256.5M406.1,261.9L407.9,266.6M399.7,249L402.4,256.4M404.8,263L406.3,267.2M398.1,248.7L400.8,256.3M403.7,264L405.1,268.1M396.3,248.9L398.7,255.4M402.3,265.4L403.6,269.1M394.7,248.3L397.2,255.1M401.1,265.9L402.4,269.5M392.9,248.1L395.4,254.8M399.7,266.6L400.9,270M391.6,249.2L393.2,253.7M398.2,267.4L399.4,270.6M390.6,251.6L391.1,253M396.8,268.6L397.8,271.4M395.4,269.2L395.9,270.7" stroke-width="0.5" stroke="#333"/>
<path d="M412,247C413.5,246.2 418.5,244 421,242.4C423.5,240.8 426,238.2 427,237.4" stroke-width="0.8"/>
<path d="M396,254C398,253.7 404,253.6 408,252.4C412,251.2 416.6,248.9 420,247C423.4,245.1 427.2,242 428.6,241" stroke-width="0.7"/>
<path d="M400,261C402,260.2 408,258.2 412,256.4C416,254.6 420.9,251.9 424,250C427.1,248.1 429.5,245.8 430.6,245" stroke-width="0.7"/>
<path d="M421.8,230.7L423.8,235.1M420,230.2L423,236.7M418.4,230.2L422.1,238.1M416.7,229.8L421.1,239.3M415.3,230.7L419.5,239.5M413.7,230.7L417.9,239.5M412.4,231.1L416.4,239.7M410.9,232L414.2,239" stroke-width="0.5" stroke="#444"/>
<path d="M377.2,258.2L378.6,260.7M374.7,256.6L379,263.9M373.1,256.3L378.1,264.9M371.8,256.9L376.7,265.3M370.7,257.2L375.4,265.4M369.2,257.3L374.1,265.8M368,257.9L372.7,266.2M366.5,257.9L371.2,266.1M365.1,258L369.6,265.7M364,258.5L368.3,266M362.4,258.7L366.6,265.8M361.2,258.9L365.2,265.8M359.5,258.5L363.5,265.4M357.8,258.2L361.6,264.8M356.1,257.9L360.3,265.3M354.1,257.6L358.5,265.1M352.4,257L357.4,265.6M350.7,256.6L356.1,266.1M349.1,256.7L354.4,265.9M347.7,256.2L353.2,265.8M345.6,255.7L351.8,266.4M344.1,255.5L350.4,266.6M342.2,254.6L349.1,266.5M340.6,254.7L347.9,267.4M338.8,253.9L346.6,267.4M336.5,252.7L345.1,267.5M334.6,252.2L343.8,268.1M332.7,251.3L342.5,268.3M330.8,250.6L341,268.3M328.9,250.1L339.7,268.8M327.4,250.2L338.3,269M325.8,250L336.9,269.3M324.6,250.3L335.7,269.5M323,250.4L334,269.5M322.1,251L333,270M321.4,252.4L331.6,270M320.7,253.9L330.2,270.3M320,255.5L328.7,270.6M319.2,256.5L327.4,270.8M318.6,258.2L325.6,270.3M317.9,259.3L324.1,270.2M317.1,260.7L322.5,270.1M316.2,262L320.5,269.5M315.5,263.1L319.3,269.6M315,264.7L317.5,268.9M314.1,265.8L315,267.5" stroke-width="0.6" stroke="#222"/>
<path d="M336.3,259L337.8,258.1M336.7,260.5L340.5,258.3M337.2,262.2L343.5,258.5M337.8,263.9L346.2,259M338.6,265.6L350,259M338.8,267.3L352.5,259.4M343.1,266.6L355.1,259.7M348.4,265.7L358.2,260M352.2,265.2L360.1,260.6M356.5,264.6L364.2,260.2M361.8,263.7L369.3,259.4M364.4,264L373.4,258.8M368.6,263.8L374.2,260.6M371.7,263.9L375.1,262M374.6,263.9L375.7,263.4" stroke-width="0.5" stroke="#333"/>
<path d="M318,258C319.3,258.7 323,260.9 326,262C329,263.1 332.3,264.2 336,264.6C339.7,265 346,264.6 348,264.6" stroke-width="0.8"/>
<path d="M322,251C323.3,251.8 327,254.7 330,256C333,257.3 338.3,258.2 340,258.6" stroke-width="0.8"/>
<path d="M364,240C364.3,241.3 365.8,245.3 366,248C366.2,250.7 365.2,254.7 365,256" stroke-width="0.8"/>
<path d="M381,246C381.8,247 384.8,249.7 386,252C387.2,254.3 388.1,257.5 388,260C387.9,262.5 386,265.8 385.6,267" stroke-width="0.8"/>
<path d="M385.3,250.7L388.5,259.5M383.2,249.5L387.9,262.5M381.3,248.3L387.5,265.4M380.2,249.8L386.6,267.3M380.1,254.1L384.7,266.8M380.4,259.3L382.8,266M380.9,264.9L381.3,266" stroke-width="0.5" stroke="#444"/>
<path d="M281.2,326.6C282.4,326.9 285.8,327.2 288.6,328.4C291.4,329.6 294.8,332.3 297.9,334C301,335.7 304,337.7 307.1,338.6C310.2,339.5 313.3,339.8 316.4,339.6C319.5,339.5 322.9,338.6 325.7,337.7C328.5,336.8 330.9,335.2 333.1,334C335.3,332.8 337.8,330.9 338.7,330.3" stroke-width="1.2"/>
<path d="M283,332.1C284.6,333.7 288.9,338.9 292.3,341.4C295.7,343.9 299.7,345.6 303.4,347C307.1,348.4 311.2,349.7 314.6,349.8C318,349.9 320.8,349 323.9,347.9C327,346.8 330.6,345 333.1,343.3C335.6,341.6 337.8,338.6 338.7,337.7" stroke-width="1.2"/>
<path d="M310.9,352.6C312.4,352.9 317,354.7 320.1,354.4C323.2,354.1 326.6,351.9 329.4,350.7C332.2,349.5 334.5,348.4 336.9,347C339.3,345.6 341.8,343.5 344,342C346.2,340.5 349,338.7 350,338" stroke-width="0.9"/>
<path d="M338.7,330.3C339.8,329.6 342.8,327.3 345,326C347.2,324.7 349.8,323.3 352,322.6C354.2,321.9 357,321.8 358,321.6" stroke-width="0.9"/>
<path d="M338.7,337.7C339.9,337.1 343.8,335 346,334C348.2,333 349.7,331.9 352,331.6C354.3,331.3 358.7,331.9 360,332" stroke-width="0.9"/>
<path d="M345,314.3C344.5,315.4 342.2,318.7 342,321C341.8,323.3 342.7,326.3 344,328C345.3,329.7 349,330.5 350,331" stroke-width="0.9"/>
<path d="M337.3,332.5L338,333.1M336.3,333.2L337.8,334.5M335.3,334.2L337.9,336.3M334.2,335L337.3,337.6M333,335.7L336.3,338.4M331.7,336.5L335.1,339.4M330.3,337.1L334.3,340.4M328.9,337.5L333.3,341.1M327.4,338.1L332.3,342.2M326.2,339.1L330.9,343M324.8,339.4L329.6,343.5M323.3,339.9L328.1,344M321.4,340.2L326.8,344.7M319.8,340.4L325.9,345.5M318.4,341L324.6,346.2M316.2,341.2L322.8,346.7M313.8,340.6L321.3,346.8M311.1,340.4L319.3,347.3M309.2,340.3L317.7,347.5M305.2,339L315.9,348M300.8,336.7L314.7,348.3M294.3,333.1L311.5,347.5M287.7,329.6L308.2,346.8M284.5,328.7L305.3,346.1M282,328.2L301.9,344.9M283.6,331.2L297.2,342.5" stroke-width="0.6" stroke="#222"/>
<path d="M341.6,340.2L344.3,341.5M338.1,340.4L342.8,342.5M337.3,341.4L341.5,343.4M335.6,342.5L340.2,344.7M334.7,343.5L339.4,345.7M333.3,344.6L338.2,346.9M331.6,345.5L336.9,348M329.9,346.3L335.3,348.8M327.8,347.3L332.9,349.6M326.4,348L331.6,350.5M324.6,348.9L329.8,351.3M322.9,349.5L328.1,352M319.9,350.1L326,353M284.8,335.4L285.4,335.7M317.5,350.7L323.7,353.6M286,337.4L287.7,338.2M315.7,351.3L322.6,354.5M288.6,340.4L290.9,341.4M309.2,349.9L320,355M291.8,343.6L304.8,349.6M310.6,352.4L316,354.8" stroke-width="0.6" stroke="#333"/>
<path d="M359.9,339.2L360.7,341.5M358.6,339.6L360.9,345.8M357.3,340.1L360.3,348.3M355.8,339.9L359,348.8M354.3,340.1L357.8,349.6M353,340.4L356.6,350.4M351.4,340.6L355.2,350.9M350.4,341.3L354.1,351.6M349.1,341.6L353,352.3M347.8,342.9L351.4,352.8M346.5,343.7L350.1,353.6M345.3,343.6L348.8,353.3M344.1,344.5L347.6,354.1M342.7,345.4L345.9,354.4M341.7,346.5L344.7,354.8M340.5,347.2L343.2,354.7M339.3,348.2L341.8,354.8M337.9,348.7L340.6,356M336.7,349.1L339.2,356M335.7,350.3L337.9,356.4M334.3,350.9L336.6,357.3M333,351.4L335.4,357.9M331.7,351.9L333.9,358.2M330.7,352.7L332.9,358.7M329.2,353.3L331.3,359.1M327.9,353.5L330.1,359.7M326.6,354.3L328.7,360.2M325.4,354.4L327.6,360.5M323.9,354.8L326.1,360.8M322.6,355.5L324.5,360.8M321.4,355.8L323.3,361M319.8,356.1L321.3,360.4M318.4,355.9L319.6,359.3M316.7,355.7L317.8,358.6M315.2,355.3L316.1,357.8M313.4,354.9L313.9,356.2" stroke-width="0.6" stroke="#333"/>
<path d="M357,323.3L360.9,325.5M355.5,323.7L360.5,326.6M353.2,324.1L360.4,328.3M351.3,324.5L360.3,329.7M350.1,325.4L359.6,330.9M348.8,325.8L356.9,330.5M348,326.9L353.7,330.2M346.4,327.4L351.6,330.4M345,328.1L350,331.1M344,329.1L348.3,331.6M342.4,330L346.8,332.4M341.4,330.8L345.2,333M340.6,331.6L343.9,333.5M340,332.9L342.7,334.5M340.1,334.5L341.4,335.2" stroke-width="0.5" stroke="#333"/>
<path d="M340.5,318.8L341.1,322.2M338.8,317.5L340.1,324.8M337.2,317.3L338.9,327.1M335.7,317.1L337.9,329.6M334.4,317.4L336.7,330.4M333.1,317.4L335.5,330.8M331.5,316.7L334.2,331.8M330.2,317.6L332.8,332.4M328.6,317.4L331.5,333.5M327.4,317.6L330.4,334.1M326.2,318.2L329,334M324.7,317.8L327.7,334.6M323.4,318.3L326.5,335.8M321.9,318.3L325.1,336.1M320.4,318.6L323.5,336.4M319.3,319.5L322.3,336.3M317.7,319.8L320.8,337.2M316.3,319.8L319.4,337M315.2,320.9L318.2,337.6M313.7,321.1L316.7,338M312.4,321.4L315.3,338M311,321.7L313.8,337.4M309.6,321.2L312.5,337.6M308,320.4L310.9,337M306.6,319.9L309.7,337.4M305.1,319.6L308.2,337.1M303.7,319.3L306.7,336.8M302.1,318.5L305.1,335.6M300.5,318.5L303.4,335M299.1,317.9L302,334.7M297.5,317.9L300.2,333.3M296,317.4L298.6,332.6M294.7,317L297.4,332.4M292.9,316.6L295.5,331.2M291.5,316.8L293.9,330.3M290.2,316.9L292.3,329M288.7,316.7L290.8,328.3M287.4,316.7L289.2,327.1M286,316.8L287.8,326.9M284.8,317.2L286.3,325.9M283.1,317.1L284.7,325.8M281.6,316.3L283.2,325.6M280,315.8L281.6,325M278.6,315.3L279.4,319.9" stroke-width="0.6" stroke="#333"/>
<path d="M291.1,316.4L293.2,317.2M287.4,316.6L293.4,318.8M284.3,316.9L294.3,320.5M278.6,316.2L295.2,322.3M279.1,317.8L295.3,323.7M279.6,319.4L294.1,324.7M280.4,321.3L292.7,325.8M280.8,323.1L291.1,326.8M281.2,324.8L286.5,326.7" stroke-width="0.5" stroke="#333"/>
<path d="M296,317C296.5,318.2 297.7,321.8 299,324C300.3,326.2 302.8,327.8 304,330C305.2,332.2 305.7,335.8 306,337" stroke-width="0.8"/>
<path d="M318,319C318.3,320.3 318.7,324.7 320,327C321.3,329.3 325,332 326,333" stroke-width="0.8"/>
</g>
<!-- nose -->
<g id="nose">
<path d="M501.6,136.5C501.4,138.5 500.8,144.4 500.4,148.6C500,152.8 498.8,157.3 499.4,161.6C500,165.9 501.9,170.6 503.9,174.6C505.9,178.6 508.8,181.7 511.3,185.7C513.8,189.7 516.5,194.4 518.7,198.7C520.9,203 522.8,208 524.3,211.7C525.8,215.4 526.1,217.4 528,221.1C529.9,224.8 532.9,230.4 535.4,234.1C537.9,237.8 540.7,240.6 542.9,243.4C545.1,246.2 547.2,248.4 548.4,250.9C549.6,253.4 550.4,255.8 550.3,258.3C550.1,260.8 548.9,263.2 547.5,265.7C546.1,268.2 543.8,270.9 541.9,273.1C540,275.3 538.1,277.3 536.4,278.7C534.7,280.1 532.5,281 531.7,281.5" stroke-width="1.5"/>
<path d="M529.9,280.6C529.7,282.2 528.8,286.8 528.9,289.9C529,293 530.2,296.5 530.8,299.1C531.4,301.7 532.3,304.5 532.6,305.6" stroke-width="1"/>
<path d="M481.6,143C482.2,143.3 484,143.9 485,145C486,146.1 486.8,146.7 487.6,149.5C488.4,152.3 489,157.1 489.9,161.6C490.8,166.1 491,171.8 492.7,176.4C494.4,181 497.6,184.8 500.1,189.4C502.6,194.1 505.4,199.4 507.6,204.3C509.8,209.2 511.2,214.2 513.1,219.1C515,224 517.4,229.8 518.7,234C520,238.2 520.7,241 521,244C521.3,247 520.7,250.7 520.6,252" stroke-width="1"/>
<path d="M482.4,143.6C483,144.5 485.1,146.6 486,149C486.9,151.4 487.3,154.8 488,158C488.7,161.2 489.7,166.3 490,168" stroke-width="0.7"/>
<path d="M496,160C496.2,161.3 496.2,165.2 497,168C497.8,170.8 500,175.5 500.6,177" stroke-width="0.6" stroke="#555"/>
<path d="M494,156C494.1,157.7 493.9,162.7 494.6,166C495.3,169.3 496.4,172.7 498,176C499.6,179.3 502,182.3 504,186C506,189.7 509,196 510,198" stroke-width="0.5" stroke="#777"/>
<path d="M478.4,148.5L479.8,146.7M479.1,150.8L482.4,146.5M478.8,153.5L483.4,147.7M478.8,156.5L484.6,149.1M479.5,158.9L485.8,150.8M480.5,160L486.1,152.8M481,162.4L486.7,155.1M480.8,165.2L487.2,157M479.3,170.2L487.6,159.5M479,173.4L488.1,161.8M478.7,176.9L488.8,163.9M478.7,179.8L489,166.6M479.6,181.5L489.8,168.4M481.1,182L490,170.6M480.8,185.5L490.5,173.1M480.7,188.3L490.8,175.3M479.1,193.3L491.4,177.5M479.8,195.5L492.3,179.5M480.1,197.8L493.2,181M479.9,201.1L494.3,182.6M477,207.4L478.9,205M479.6,204.2L495.4,184M478.3,208.2L495.8,185.8M478.9,210.3L497,187.1M478,214.3L497.8,189M477.5,218.3L498.9,190.9M477,221.3L499.7,192.2M478.7,222.5L500.7,194.4M478.9,225.2L501.8,195.9M476.4,230.9L502.5,197.5M477.7,231.9L503.3,199.2M478,234.1L504,200.8M478.2,237.3L505,203M477.9,240.2L505.7,204.7M476.2,245.3L506.4,206.7M476.4,248.2L507.3,208.6M476.9,250.2L508.1,210.3M479.2,250.3L508.7,212.5M480.7,250.5L509.3,214M482.8,250.7L510,216M484.9,250.9L510.8,217.8M487.1,251.4L511.5,220.2M489,251.9L512.5,221.7M493,249.5L513.1,223.8M497.9,245.9L513.7,225.6M501.4,244.2L514.4,227.6M504.6,243.1L515.1,229.6M506,244.2L515.8,231.8M507.7,245L516.7,233.5M509.1,246L517.2,235.6M510.7,246.5L517.7,237.7M512,247.7L517.7,240.3M515.9,245.6L518.6,242.2" stroke-width="0.7" stroke="#111"/>
<path d="M490.3,162.4L491.2,161.2M490.5,165.2L491.6,163.8M490.7,167L492,165.4M491.1,169.5L492.8,167.3M491.6,171.2L493.4,169M492,173.9L493.4,172.1M492.6,175.7L494.6,173.2M493.4,177.5L495,175.5M494.2,179.6L496.5,176.6M495.3,180.7L497.7,177.6M496.8,182.9L498.6,180.6M498.1,185.3L499.7,183.2M499.4,187.6L501.7,184.7M500.3,189.4L502.1,187.1M501.1,190.9L503.3,188.1M502.5,192.9L504,191M503.6,195L506.4,191.5M504.5,197.8L506.8,194.9M505.7,199.9L507.4,197.8M506.8,202L508.9,199.2M507.9,204.4L510.1,201.6M508.6,206.2L511.2,202.8M509.5,208.6L511.3,206.3M510.2,210.7L512.6,207.7M511.3,212.8L513.7,209.7M512.1,215.3L513.3,213.8M512.8,217.9L514,216.4M513.6,219.7L515.2,217.5M514.2,221.9L516,219.5M514.8,223.5L515.9,222.1M515.7,224.7L517.6,222.3M516.1,226.6L517.4,224.9M516.9,228.3L518,226.9M517.6,230.7L518.6,229.4M518.4,232.4L519.2,231.4" stroke-width="0.5" stroke="#444"/>
<path d="M468.2,165.5L470,163.2M468.9,168.3L472.7,163.4M469.4,171.4L473.1,166.7M469.6,174.9L473.4,170.1M472.5,175.3L473.8,173.6" stroke-width="0.6" stroke="#555"/>
<path d="M466.6,191.5L468.1,189.7M467,195L471.8,188.9M467.8,197.5L471.8,192.4M468.1,200.8L472.1,195.7M468.7,203.6L472.6,198.6M472.5,203.1L472.9,202.5" stroke-width="0.6" stroke="#555"/>
<path d="M473.4,151.8L475.7,148.8M473.5,155.2L476.9,150.9M473.8,158.3L476.9,154.3M475,160.7L477.3,157.7" stroke-width="0.5" stroke="#666"/>
<path d="M475.8,232.6L478.7,236.4M473.6,233.6L481.2,243.2M471.9,235L483.9,250.3M469.8,235.9L487.1,258M468.3,237.9L488.6,263.9M468.4,241.1L489,267.6M468.2,244.6L490.3,272.9M468.1,248.9L493.4,281.3M468.9,253.2L491.5,282.1M469.9,258.3L489.7,283.7M471,263.5L488,285.2M476,273.7L482.3,281.7" stroke-width="0.7" stroke="#333"/>
<path d="M488.1,260.1C488.4,259.2 488.8,256.3 489.6,255C490.4,253.7 491.5,253 492.7,252.2C493.9,251.4 495.4,250.6 497,250.2C498.6,249.8 500.2,249.6 502,249.7C503.8,249.8 505.8,250.1 507.6,250.6C509.5,251.1 511.5,252 513.1,252.7C514.7,253.4 515.8,254 517,254.8C518.2,255.6 520,257 520.6,257.4" stroke-width="1.2"/>
<path d="M488.1,260.1C488.1,260.9 487.7,263.4 487.8,265C487.9,266.6 488.5,267.8 489,269.4C489.5,271 490.1,273.1 491,274.6C491.9,276.2 493.1,277.6 494.6,278.7C496.1,279.8 498.1,280.5 500,281C501.9,281.5 504,281.6 505.7,281.5C507.4,281.4 508.8,280.9 510,280.4C511.2,279.9 512.6,279 513.1,278.7" stroke-width="1.3"/>
<path d="M490.5,262C490.7,263 490.8,266.1 491.5,268C492.2,269.9 493.2,272.1 494.5,273.6C495.8,275.1 497.3,276.3 499,277C500.7,277.7 503.6,277.5 504.5,277.6" stroke-width="0.8"/>
<path d="M488.1,260.1 Q487.2,266 489.6,271 Q492.4,277.4 498,280.2 Q504,282.2 510,280.6 L513.1,278.7 Q507,279.4 501,278 Q495,275.6 492.6,270.4 Q490.8,265.6 491.4,260.4Z" fill="#2a2a2a" stroke="none"/>
<path d="M495,258C495.8,257.8 498.3,256.8 500,256.6C501.7,256.4 504.2,256.9 505,257" stroke-width="0.5" stroke="#888"/>
<path d="M496,262C497,261.7 500.2,260.6 502,260.4C503.8,260.2 506.2,260.9 507,261" stroke-width="0.5" stroke="#888"/>
<path d="M511.3,276.7L512.3,277.5M510.3,277L512.6,279M509.2,277.2L511.5,279.1M488.7,261.1L490.5,262.5M508.1,277.4L510.6,279.5M488.9,262.5L490.8,264.1M506.7,277.4L509.6,279.9M488.9,263.7L491,265.5M505.6,277.7L508.3,280M489.1,265L491.2,266.7M504.4,277.8L507.4,280.3M489.1,266.2L491.6,268.3M502.7,277.5L506.4,280.6M489.3,267.5L492.6,270.3M501.3,277.5L505.4,280.9M489.6,269.1L493.8,272.7M499.2,277.2L503.2,280.5M490.1,270.7L501.8,280.4M491,272.5L500.3,280.3M491.7,274.3L497.8,279.5M493.2,276.6L495.4,278.5" stroke-width="0.6" stroke="#222"/>
<path d="M503.4,240.5L504,239.6M503.8,241.5L505.9,238.9M504.6,242.3L507.6,238.4M505.1,243.8L508.9,238.9M505.6,244.6L509.9,239.2M506,245.8L510.8,239.6M506.8,246.7L512.1,239.8M507.3,248L513.5,240.1M508.1,248.6L514.4,240.6M509,249.3L515.2,241.4M509.3,250.7L516.1,242.1M510.4,251.2L516.6,243.2M511.4,251.7L517.5,244M512.6,251.8L518.3,244.5M513.5,252.3L518.8,245.7M514.4,253.2L519.1,247.2M515.6,253.5L519.7,248.3M516.3,254.1L520.1,249.2M517.4,254.7L520.5,250.8M518.2,255.3L520.6,252.2M519,256L520.6,254M519.8,256.7L520.6,255.7" stroke-width="0.6" stroke="#111"/>
<path d="M504.6,240 Q509,240.5 512.6,243 Q516.5,248.5 519.6,256.4 Q515.5,254.6 512.4,253.2 Q508,248.5 504.6,240Z" fill="#151515" stroke="none"/>
<path d="M502.7,240.4L503.5,241.1M502,241.3L504.7,243.6M501.2,242L506,246.1M500.7,243.2L508,249.3M499.7,243.7L507.4,250.3M499.3,244.7L505.7,250.1M498.1,245.2L503.2,249.5M497.3,246L501.5,249.5M496.6,246.9L500,249.7M496.4,248.2L498.5,250" stroke-width="0.6" stroke="#222"/>
<path d="M513.1,271.3C513.8,270.8 515.5,268.9 517,268C518.5,267.1 520.7,266.2 522.4,265.7C524.1,265.2 525.5,265.2 527,265.2C528.5,265.2 530.2,265.3 531.7,265.7C533.2,266.1 534.8,266.8 536,267.4C537.2,268 538.6,269.1 539.1,269.4" stroke-width="1.1"/>
<path d="M514.5,274.3 Q518,270.5 523.5,270 Q529,269.6 532.6,272.4 Q530,276.4 524,277 Q518,277.4 514.5,274.3Z" fill="#4a4a4a" stroke="#111" stroke-width="0.9"/>
<path d="M515.5,273.8 Q519,270.6 523.5,270.2 Q529,269.9 532,272.2 Q527,271.6 523,272.4 Q518.6,273.2 515.5,273.8Z" fill="#0c0c0c" stroke="none"/>
<path d="M521,275.8 L526.5,274.2 L529.5,275.2 L524,276.6Z" fill="#111" stroke="none"/>
<path d="M513.1,278.7C513.9,278.9 516.2,279.6 518,279.8C519.8,280 522,279.7 524,279.8C526,279.9 528.9,280.3 529.9,280.4" stroke-width="0.9"/>
<path d="M535.1,268.4L537.5,269.8M530.1,266.7L536.8,270.6M528.3,266.9L535.9,271.3M525.9,266.7L535.5,272.2M524.2,266.7L528,268.9M531.1,270.7L535.1,273.1M522,266.8L525.8,269M521.1,267.4L524.2,269.3M519.8,267.7L522.6,269.4M518.4,268.2L520.8,269.6M517.2,268.6L519.1,269.8M516.3,269.2L517.7,270.1M515.5,270L517.1,270.8M514.7,270.6L516.4,271.5M514.1,271.2L515.7,272.2M513.2,272L514.8,273" stroke-width="0.5" stroke="#222"/>
<path d="M533,273C533.7,272.9 535.7,272.7 537,272.4C538.3,272.1 540.3,271.2 541,271" stroke-width="0.8"/>
<path d="M548.6,251.6L546.8,250.9M549.2,253.2L547.3,252.5M549.6,254.5L548,253.9M549.9,256L547,254.9M550.2,257.8L547.4,256.7M549.6,259.4L546.8,258.3M549.5,261.1L546.3,259.9M548.6,262.6L544.9,261.2M548.1,264L544.8,262.8M547.8,265.1L545.9,264.4M546.9,266.1L544.9,265.4M546,267.5L543.5,266.6M545,268.8L543.1,268.1M544.1,270.2L542.3,269.5M542.9,271.5L541,270.8M541.9,272.6L540.5,272.1" stroke-width="0.5" stroke="#555"/>
<path d="M526,222C526.7,223.7 528.6,228.8 530,232C531.4,235.2 533.8,239.5 534.6,241" stroke-width="0.5" stroke="#888"/>
<path d="M536,246C536.7,247.3 539,251.3 540,254C541,256.7 541.7,260.7 542,262" stroke-width="0.5" stroke="#999"/>
<path d="M522,256C522.8,256.7 525.2,258.8 527,260C528.8,261.2 531.2,262 533,263C534.8,264 537.2,265.5 538,266" stroke-width="0.7" stroke="#444"/>
<path d="M480.4,283.6L480.8,283M481.7,285L483.2,282.9M482.8,286.6L485.4,282.9M483.9,288.2L487.7,282.7M485.2,289.4L490,282.6M486.4,290.8L492,282.7M488.1,292L494.6,282.7M489.6,292.8L496.2,283.3M491.2,293.5L498.4,283.2M493,294L500.5,283.3M494.4,295.1L502.3,283.8M496.4,295.5L504.6,283.8M498.5,296.1L507.3,283.5M500.4,296L509.2,283.5M502.1,296.8L511.6,283.2M504.6,296.8L514.7,282.4M506,297.4L516.5,282.3M507.9,297.7L518.6,282.4M510.5,297.8L521.2,282.5M513,297L523.3,282.4M515.4,297.1L526.1,281.9M518.1,296.1L527.9,282.1M520.4,295.8L527.8,285.3M525.9,291.1L527.5,288.8" stroke-width="0.6" stroke="#222"/>
</g>
<!-- mouth -->
<g id="mouth">
<path d="M203.9,449.6C204.2,448.2 204.8,443.9 205.6,441C206.4,438.1 207.5,435 208.6,432C209.7,429 210.8,425.8 212,423C213.2,420.2 214.6,417.8 216,415.3C217.4,412.8 218.8,410.2 220.4,408C222,405.8 223.6,403.9 225.3,402.3C227,400.7 228.8,399.5 230.6,398.6C232.4,397.7 234.7,397 236.4,396.7C238.1,396.4 239.3,396.7 240.6,397C241.8,397.3 242.7,398.9 243.9,398.6C245.1,398.3 246.5,396.1 248,395C249.5,393.9 251.3,392.5 253.1,392.1C254.9,391.7 256.7,391.9 258.6,392.4C260.5,392.9 262.4,393.8 264.3,394.9C266.2,396 268.1,397.5 270,399C271.9,400.5 273.6,402.3 275.4,404.1C277.2,405.9 279.1,407.8 281,410C282.9,412.2 285,414.9 286.6,417.1C288.2,419.3 289.3,421.1 290.4,423C291.5,424.9 292.5,426.8 293.1,428.3C293.7,429.8 293.9,431.4 294,432" stroke-width="1.3"/>
<path d="M212.3,445C212.9,443.7 214.4,439.5 215.6,437C216.8,434.5 218.3,432.3 219.7,430.1C221.1,427.9 222.4,425.9 224,424C225.6,422.1 227.2,420.6 229,419C230.8,417.4 232.8,415.8 234.6,414.6C236.4,413.4 238.3,412.3 240.1,411.6C241.9,410.9 243.7,410.6 245.6,410.4C247.5,410.2 249.4,410.3 251.3,410.6C253.2,410.9 255.2,411.4 257,412C258.9,412.6 260.6,413.5 262.4,414.4C264.2,415.3 266.1,416.3 268,417.4C269.9,418.5 271.8,419.7 273.6,420.9C275.4,422.1 277.1,423.2 279,424.4C280.9,425.6 283.1,427.2 284.7,428.3C286.3,429.4 287.3,430.1 288.4,431C289.5,431.9 290.7,433.4 291.2,433.9" stroke-width="1.1"/>
<path d="M212.4,422.5L213.1,425.3M212.9,421.2L213.9,425.1M213.6,419.9L214.8,424.3M214.3,418.5L215.4,422.6M215,417.5L216.3,422.2M215.8,415.9L216.7,419.3M216.5,415.3L217.7,420M217.1,413.6L218.7,419.5M218,412.1L219,415.8M218.8,410.8L220.5,417M219.4,409.6L220.7,414.3M220.2,408.5L222,415.4M221.2,407L223.1,414.3M222,405.9L223.6,411.6M223,404.8L225,412.2M224.1,403.9L225.2,408.1M225.3,402.3L226.5,406.8M226.2,401.5L227.7,407.2M227.3,401.3L228.7,406.7M228.4,400.3L229.7,405.2M229.3,399.4L230.8,404.8M230.7,398.6L232.4,405M232.1,398L233.4,402.9M233.5,398.1L235.1,403.8M234.7,397.7L235.9,402.3M235.8,396.8L236.9,400.9M237.3,397L238.3,400.8M238.9,396.9L239.5,399.1" stroke-width="0.5" stroke="#333"/>
<path d="M248.6,394.9L247.8,397.8M249.7,394.1L248.6,398.1M250.7,393.4L249.7,397.2M252,392.7L251.2,395.5M253.2,392.4L252.5,395M254.5,391.9L253.3,396.6M256.2,392.2L254.8,397.3M257.8,392.7L256.8,396.3M259.1,393.1L258.1,396.9M260.5,393.6L259.3,397.9M261.9,393.7L260.4,399.3M263.5,394.5L262.3,398.8M264.9,395.9L263.8,400M266.6,396.4L265,402.3M267.5,397.3L266.3,401.8M268.8,398.2L266.7,405.8M269.8,398.9L268.2,404.9M270.6,400L269,406M271.5,400.8L270,406.4M272.7,402L271.2,407.4M273.6,402.8L271.8,409.5M274.9,403.7L273.4,409.4M275.8,404.6L274.2,410.4M276.8,406.1L275.7,410M277.8,406.6L276.8,410.3M278.8,407.8L277.3,413.5M279.5,409.1L278.1,414.3M280.7,409.7L278.9,416.4M281.8,411.4L280.1,417.7M282.7,412.8L281.4,417.6M283.5,413.5L282.2,418.5M284.3,414.6L283,419.7M285.1,415.4L283.8,420.2M286.1,416.4L284.9,420.8M286.9,418.2L286,421.5M287.6,419.2L286.5,423.4M288.6,420.1L287.5,424.2M289.3,421.8L288.5,425M290.1,422.7L289.6,424.6" stroke-width="0.5" stroke="#333"/>
<path d="M216,436.3L215.3,434.5M216.6,434.7L215.7,432.2M217.3,433.8L216.1,430.5M218.1,431.9L217.3,429.8M219,430.4L217.3,425.9M220.1,429.2L219.1,426.5M220.9,428.1L219.2,423.4M221.7,427L220.6,424M222.7,425.3L220.6,419.5M223.8,423.8L222.2,419.4M224.9,422.8L223,417.8M225.8,421.8L224.1,417.1M227,420.8L224.7,414.7M227.9,419.9L225.8,414.3M228.8,418.7L226.7,412.9M229.9,418L228.8,414.8M230.9,416.7L228.9,411.2M232.3,415.6L230.3,409.9M233.9,414.4L231.9,409M235.1,414.1L233.8,410.6M236.5,413.2L235.1,409.4M238.1,412.3L237,409.1M239.4,411.5L238.2,408.3M241,411.2L240,408.3M242.5,410.8L241.6,408.5M244,410.3L243.3,408.4" stroke-width="0.5" stroke="#333"/>
<path d="M257.9,412L258.5,410.3M259.2,412.6L260.1,410M260.9,413.2L262.3,409.4M262.1,414L263.3,410.6M263.2,414.5L264.5,410.8M264.9,415.1L266.2,411.8M266.3,416L267.4,413M267.4,417L269,412.7M268.5,417.7L270.6,411.9M269.6,418.3L270.9,414.8M271.3,419L273.6,412.7M272.6,419.9L274.7,413.9M273.6,420.7L275.6,415.3M274.8,421.4L276.3,417.3M276.1,421.9L277.9,416.9M277.4,422.9L278.5,419.9M278.5,423.4L280,419.1M279.9,424.5L281.8,419.1M281,425.4L282.1,422.5M282.4,426.5L283.5,423.5M283.9,427.4L285,424.4M285.2,428.6L286.6,424.7M286.4,429L287.6,425.8M287.3,430.1L288,428.3" stroke-width="0.5" stroke="#333"/>
<path d="M243.9,398.6C243.8,399.2 243.2,400.9 243.2,402C243.1,403.1 243.5,404.5 243.6,405" stroke-width="0.7" stroke="#444"/>
<path d="M205.9,440.5L208,444.1M206.3,439.6L208.3,443M206.9,438.4L209.5,442.9M207.1,436.5L209.2,440.1M207.7,435.3L209.8,438.9M208.2,434.1L211.3,439.5M208.5,432.3L211.9,438.1M209.1,431.6L212.5,437.3M209.6,429.9L211.8,433.7M210.2,428.5L213.1,433.7M210.5,426.7L212.9,430.7M211.1,425.3L214.4,431M211.7,423.9L214.4,428.6M212.2,423L214.4,426.8M213,421.9L216.3,427.5M213.2,420.6L215.8,425.1M214,419.6L216.7,424.3M214.7,418.6L218.3,424.9M215.2,416.9L219.7,424.7M215.9,416L220.5,424M216.4,414.9L219.8,420.8M217.1,413.5L220.9,420.1M217.9,412.2L221.4,418.3M218.6,411L223.2,418.9M219.1,410L221.8,414.7M220,409.4L222.9,414.4M220.5,408.2L222.7,412M221.1,407.3L223.9,412.2M222,406.8L225.5,412.8M222.6,405.5L226,411.4M223.5,404.2L226.6,409.6M224.5,403.1L226.8,407.1M225.4,402.8L228.9,408.8M226.3,402L229.1,406.9M227.1,401.3L230.1,406.5M228.3,400.3L230.1,403.3M229.4,399.5L232.3,404.6M230.6,398.8L233.5,403.8M231.7,398.1L234.4,402.8M233.4,397.8L235,400.7M234.5,397.5L236.7,401.3M236,397.3L237.2,399.4" stroke-width="0.5" stroke="#333"/>
<path d="M206.3,447.4L208.4,448.1M206.6,446.2L208.6,446.9M207.5,444.7L209.8,445.5M207.8,443.5L210.7,444.6M207.8,441.9L210.5,442.9M208.7,440.8L211.6,441.9M209.2,439.2L213.7,440.8M209.2,437.9L211.6,438.8M209.7,437L212.4,437.9M210,435.8L214,437.3M210.3,434.6L215.3,436.4M211.2,433.2L215,434.6M211.8,432.1L216.2,433.7M212.1,431L215.7,432.3M212.6,429.7L216.9,431.3M213.2,428.6L217.2,430M213.7,427.3L217.3,428.6M214.3,426.1L216.5,426.9M214.8,424.6L218.2,425.8M215.8,423.5L218.6,424.5M216.4,422.5L219.2,423.5M217.1,421.3L220,422.3M217.7,420.4L219.4,421M218.2,419.4L220.6,420.3" stroke-width="0.5" stroke="#333"/>
<path d="M293.8,432.7L292.7,432.3M293.1,434.2L291.2,433.5M292.8,435.6L290.1,434.6M292.1,437L290.1,436.3M292,438.6L289.6,437.7M291.6,440.2L289.1,439.3M291.5,441.9L288,440.6M291,443.4L288.4,442.5M291.1,444.6L289,443.8M291.2,446.3L289.4,445.6M290.6,447.3L288.8,446.6" stroke-width="0.5" stroke="#444"/>
<path d="M229.6,421.4C229.8,420.6 229.9,417.8 231,416.4C232.1,415 233.9,413.7 236,413C238.1,412.3 242.3,412.3 243.6,412.2" stroke-width="0.9"/>
<path d="M229.6,421.4C230.1,421.8 231.2,423.5 232.6,424C234,424.5 236.1,424.7 238,424.6C239.9,424.5 242.8,423.6 243.8,423.4" stroke-width="0.9"/>
<path d="M244,412.4C244.1,413.3 244.4,416.2 244.4,418C244.4,419.8 243.9,422.5 243.8,423.4" stroke-width="0.9"/>
<path d="M244,412.4C245.1,412.3 248.5,411.5 250.6,411.6C252.7,411.7 255,412.2 256.6,413C258.2,413.8 259.4,415.8 260,416.4" stroke-width="0.9"/>
<path d="M243.8,423.4C244.8,423.2 248,422.4 250,422C252,421.6 254.3,421.9 256,421C257.7,420.1 259.3,417.2 260,416.4" stroke-width="0.9"/>
<path d="M284.7,430.1L285.2,431.6M283.2,428.9L284.1,431.4M281.6,427.5L282.9,431.2M280.1,426.5L281.6,430.6M278.8,425.7L280.5,430.5M277.7,425.2L279.4,430M276.1,424.2L278.2,430M274.9,423.6L277.2,430M273.6,422.8L276.1,429.8M272,422L274.8,429.6M271,421.3L274,429.5M269.5,420.6L272.5,428.8M268.3,419.9L271.4,428.6M267,419.1L270.4,428.4M265.8,419L269.4,428.8M264.6,418.4L268.2,428.3M263.4,418.1L267,428.2M262.3,418.4L265.7,428M261.2,418L264.9,428.2M260.2,418L263.9,428.1M259.4,418.8L262.8,428.1M258.4,419.1L261.5,427.4M257.5,419.9L260.5,428M256.7,420.7L259.2,427.4M256,421.6L258.2,427.5M255,421.6L257.1,427.4M254.1,421.8L256.2,427.5M253.1,422.2L255,427.3M252,422.3L254,427.7M251,422.6L252.8,427.3M250.1,422.7L251.7,427.2M249,422.5L250.9,427.6M248.1,422.7L250,427.8M247.1,423L248.9,427.9M246.1,423.4L247.6,427.6M245.2,423.5L246.8,427.9M244,423.7L245.5,427.8M243.1,424L244.6,428.1M241.9,423.9L243.5,428.2M241,424L242.5,427.9M240.1,424.4L241.5,428.2M239.1,424.7L240.4,428.2M238.2,424.9L239.5,428.5M237.1,424.8L238.5,428.4M235.8,424.7L237.3,428.6M234.7,424.5L236.4,429.2M233.6,424.3L235.4,429.2M232.3,423.3L234.6,429.7M230.8,422.2L233.5,429.5M229.7,422.3L232.4,429.8M229,423.1L231.6,430.4M228,423.8L230.5,430.5M227.3,424.3L229.7,430.7M226.5,425.2L228.6,430.9M225.7,426.1L227.6,431.2M224.9,426.9L226.5,431.3M224.3,428.1L225.5,431.5M223.8,429.3L224.6,431.4M223.1,430.2L223.6,431.7M222.4,431.4L222.6,431.9" stroke-width="0.6" stroke="#111"/>
<path d="M229.5,422.1L230.9,421.9M227.3,424.2L232.2,423.3M259.1,418.5L262.5,418M225.8,425.7L233.9,424.3M257.5,420.1L265.8,418.7M225.3,427.2L268,419.6M223.9,428.8L270.1,420.6M223.1,430.4L271.7,421.8M223.8,431.8L233.8,430M244.2,428.2L274,422.9M255.4,427.6L275.7,424M260.9,428.1L277.5,425.1M266.4,428.4L279,426.2M271.4,429.1L280.9,427.4M276,429.8L282.2,428.7M279.9,430.5L283.9,429.8M282.9,431.2L285.4,430.7" stroke-width="0.5" stroke="#222"/>
<path d="M212.3,444.1C213,443.2 215.1,440.6 216.6,439C218.1,437.4 219.7,436.1 221.6,434.8C223.5,433.5 225.5,432.2 228,431.2C230.5,430.2 233.6,429.2 236.4,428.6C239.2,428 241.9,427.8 245,427.6C248.1,427.4 251.8,427.4 255,427.4C258.2,427.4 260.9,427.4 264,427.6C267.1,427.8 270.8,428.1 273.6,428.6C276.4,429.1 278.4,429.7 280.6,430.6C282.8,431.5 285.6,433.3 286.6,433.9" stroke-width="1.1"/>
<path d="M213,449C214,449.1 216.9,449.6 219,449.5C221.1,449.4 222.6,448.7 225.3,448.2C228,447.7 231.6,447 235,446.4C238.4,445.8 242.4,445 245.7,444.4C249,443.8 251.9,443.2 255,442.6C258.1,442 261.6,441.2 264.3,440.6C267,440 268.8,439.5 271,438.8C273.2,438.1 275.3,437.4 277.3,436.7C279.3,436 281.4,435.1 283,434.6C284.6,434.1 286,434 286.6,433.9" stroke-width="0.9"/>
<path d="M251.4,427.6L252,431.5M250.1,427.7L251.9,440.8M248.9,428.2L250.9,442.6M247.7,427.8L249.8,442.8M246.3,428.2L248.5,443.8M245.2,427.9L247.4,443.8M244,428.4L246.1,444M242.6,428L244.9,444.1M241.3,428L243.7,444.7M240.1,428.7L242.4,444.8M239,428.2L241.3,444.7M237.7,429.1L239.9,444.9M236.4,429.1L238.7,445M235.1,429L237.4,445.8M234.1,429.2L236.3,445.5M232.7,430L234.9,445.8M231.6,430.4L233.8,446.3M230.2,430.6L232.5,446.8M229.3,431.3L231.5,446.4M227.9,431.9L230.1,447.1M226.8,432L228.9,446.8M225.7,432.5L227.8,447.2M224.4,433L226.4,447.9M223.3,433.8L225.3,447.8M222.3,435.1L224.1,448.1M220.9,435.6L222.7,448.1M220,436.7L221.7,448.8M218.7,437.5L220.3,448.8M217.6,438.7L219.1,449.4M216.5,439.6L217.8,449M215.5,440.8L216.7,449.4M214.4,441.6L215.3,448.6M213.3,443.3L214.1,449.1" stroke-width="0.6" stroke="#111"/>
<path d="M236,428.7L239.8,428.4M228.4,431.2L239.6,430.3M223.7,433.4L240,432M221.3,435.2L239.4,433.7M218.7,437.2L239.6,435.4M216.3,439.3L239.8,437.3M214.7,441.2L239.3,439M213.6,443.2L239.8,440.9M213.2,445.2L240,442.9M213.4,446.9L239.4,444.7M213.5,448.5L231.9,446.9" stroke-width="0.5" stroke="#333"/>
<path d="M283.7,432.3L284,434.3M281.8,431.5L282.3,434.8M280.2,430.7L280.8,435.4M278.4,430.3L279.1,435.8M276.6,429.9L277.5,436M274.5,428.9L275.6,436.5M273.1,428.8L274.3,437.6M271.1,428.7L272.5,438M269.5,428.5L270.9,438.3M268,428.5L269.4,439M266.3,428.5L267.9,439.6M264.2,428.2L265.9,439.9M262.5,427.7L264.3,440.4M260.7,428L262.5,440.4M259.1,427.4L261,440.7M257.2,427.7L259.1,441.2M255.9,428.2L257.8,441.5M254.2,428L256.1,441.8M252.3,427.9L254.3,442M252,438.9L252.6,442.7" stroke-width="0.6" stroke="#222"/>
<path d="M270.7,428.3L285.8,433.8M262.6,428L281.4,434.9M262.1,430.2L278.1,436M262.3,433L274.8,437.5M262.5,435.6L270.7,438.6M262.5,437.8L267.3,439.6M262,440.6L262.9,440.9" stroke-width="0.5" stroke="#555"/>
<path d="M211.4,449.7C212,450.9 213.6,454.5 215,457C216.4,459.5 218,462.1 219.7,464.6C221.4,467.1 223.1,469.5 225,472C226.9,474.5 229,476.9 230.9,479.4C232.8,481.9 234.8,484.5 236.6,487C238.4,489.5 240.3,492.1 242,494.3C243.7,496.5 245.4,498.4 247,500C248.6,501.6 250,503 251.3,503.8C252.6,504.6 253.6,504.7 255,504.6C256.4,504.5 258.4,503.8 260,503C261.6,502.2 262.9,501.3 264.3,499.9C265.7,498.5 267.2,496.5 268.4,494.6C269.6,492.7 270.7,490.9 271.7,488.7C272.7,486.5 273.7,483.9 274.6,481.4C275.5,478.9 276.4,476.6 277.3,473.9C278.2,471.2 279.3,468.2 280.2,465.4C281.1,462.6 282.1,460 282.9,457.1C283.7,454.2 284.2,451.1 284.8,448C285.4,444.9 286.2,441.4 286.6,438.6C287.1,435.8 287.4,432.4 287.5,431.1" stroke-width="1.2"/>
<path d="M240,452C240.6,453.5 242.6,458 243.6,461C244.6,464 245.6,468.5 246,470" stroke-width="0.5" stroke="#555"/>
<path d="M243,451C243.6,452.8 245.6,458 246.6,461.5C247.6,465 248.6,470.2 249,472" stroke-width="0.5" stroke="#555"/>
<path d="M246,450C246.6,452 248.6,458 249.6,462C250.6,466 251.6,472 252,474" stroke-width="0.5" stroke="#555"/>
<path d="M249,449C249.5,450.6 251.3,455.3 252.1,458.5C252.9,461.7 253.7,466.4 254,468" stroke-width="0.5" stroke="#555"/>
<path d="M252,449C252.4,451.2 253.9,458 254.6,462.5C255.3,467 255.8,473.8 256,476" stroke-width="0.5" stroke="#555"/>
<path d="M255,448C255.3,449.5 256.6,454 257.1,457C257.6,460 257.9,464.5 258,466" stroke-width="0.5" stroke="#555"/>
<path d="M258,447C258.2,448.9 258.9,454.7 259.1,458.5C259.3,462.3 259,468.1 259,470" stroke-width="0.5" stroke="#555"/>
<path d="M250,476C250.4,477.2 251.9,480.7 252.6,483C253.3,485.3 253.8,488.8 254,490" stroke-width="0.5" stroke="#555"/>
<path d="M254,478C254.3,479.3 255.6,483.3 256.1,486C256.6,488.7 256.9,492.7 257,494" stroke-width="0.5" stroke="#555"/>
<path d="M284.6,448.8L282.8,449.4M284,450.5L282,451.3M284,452L281.8,452.8M283.2,453.8L279.4,455.2M283.2,454.9L280.3,455.9M282.7,456.1L278.4,457.7M282.3,457.9L277.6,459.6M281.9,459.2L277.6,460.7M281.5,460.3L278.7,461.3M281.4,461.3L276.2,463.2M280.7,462.6L276.9,464M280.2,464.2L277,465.3M280,465.4L274.5,467.4M279.5,467L274.8,468.8M278.8,468.9L272.6,471.1M278.2,470.3L273.2,472.1M277.9,471.5L271.8,473.7M277,473.4L272.1,475.2M276.9,474.9L273,476.4M276.2,476.5L271.4,478.2M275.9,477.7L272.1,479.1M275.2,479.2L270.7,480.8M274.4,480.9L270.4,482.4M274,482.4L269.9,483.9M273.3,483.7L268.9,485.3M272.6,485.5L268.1,487.1M272,486.9L268.6,488.2M271.4,488.4L269.2,489.2M271,489.7L267.2,491.1M270.1,491.2L267.2,492.2M269.2,492.7L266.9,493.6M268.2,494.3L266.6,494.9" stroke-width="0.5" stroke="#333"/>
<path d="M263.8,500.3L264.1,498.4M262.8,501L263.1,499.1M261.8,501.3L262.4,498.3M260.6,502.3L261.3,498.5M259.7,503.1L260.3,500M258.5,503.3L259.1,500.1M257.4,503.9L257.8,501.3M255.9,504.1L256.5,500.3M254.6,504.2L255.2,500.4M253,504L253.7,499.9M251.8,504.1L252.3,501M250.7,503.2L251.1,500.9M249.7,502.4L250.2,499.8M248.8,501.4L249.4,498M247.8,500.4L248.4,497.5" stroke-width="0.5" stroke="#444"/>
<path d="M215.9,457.9L217.9,458.2M216.8,459.5L219.5,459.9M217.4,460.8L219.9,461.3M218.3,462.3L221.6,462.9M219.5,463.8L221.9,464.2M220.6,465.6L223.2,466M221.3,466.7L223.9,467.1M222.7,468.3L226.9,469M223.7,469.8L226.6,470.2M224.9,471.4L229.1,472.2M226,472.9L229.2,473.5M227.2,474.3L231.1,475M227.8,475.5L231.7,476.2M228.8,476.6L231.4,477.1M230.3,478L233.1,478.5M230.8,479.1L234.5,479.7M231.9,480.4L234.6,480.8M233.1,481.9L234.8,482.2M233.7,482.9L235.5,483.3M234.7,484.4L237.1,484.8M235.6,485.5L237.3,485.8" stroke-width="0.5" stroke="#555"/>
<path d="M203.9,449.7C204.2,450.9 204.8,454.5 205.6,457C206.4,459.5 207.5,462.1 208.6,464.6C209.7,467.1 210.8,469.5 212,472C213.2,474.5 214.6,477.1 216,479.4C217.4,481.7 218.8,483.8 220.4,486C222,488.2 223.6,490.7 225.3,492.4C227,494.1 228.8,495.1 230.6,496C232.4,496.9 234.7,497.4 236.4,498C238.1,498.6 239.4,499.1 241,499.4C242.6,499.7 244.9,499.8 245.7,499.9" stroke-width="1.3"/>
<path d="M294,433C293.9,434.3 293.9,438.2 293.6,441C293.3,443.8 292.6,446.7 292.1,449.7C291.6,452.7 291.2,455.9 290.6,459C290,462.1 289.2,465.5 288.4,468.3C287.6,471.1 286.9,473.5 286,476C285.1,478.5 284,480.9 282.9,483.1C281.8,485.3 280.6,487.1 279.4,489C278.1,490.9 276.5,493 275.4,494.3C274.3,495.6 273.5,496 272.6,496.6C271.7,497.2 270.3,497.8 269.9,498" stroke-width="1.3"/>
<path d="M209.4,449.9L212.2,451.9M205.1,449.8L214.4,456.3M204.6,451.7L216.5,460.1M205.7,455.7L220.5,466M206.7,459L224.2,471.2M207.9,462.5L228.9,477.2M209.8,466.5L233.4,483M211.5,471L238.6,489.9M214,475.1L242.5,495.1M216.2,479.4L245.2,499.8M220.1,485.5L239.2,498.9M223.9,490.6L232.5,496.7" stroke-width="0.6" stroke="#333"/>
<path d="M209.6,450.4C210.1,451.7 211.4,455.4 212.6,458C213.8,460.6 215.4,463.2 217,466C218.6,468.8 220.2,471.8 222,474.6C223.8,477.4 226,480.1 228,482.6C230,485.1 231.9,487.4 234,489.6C236.1,491.8 239.5,494.6 240.6,495.6" stroke-width="0.7"/>
<path d="M207.4,451C207.8,452.3 208.9,456.3 210,459C211.1,461.7 212.5,464.2 214,467C215.5,469.8 217.2,473.2 219,476C220.8,478.8 223,481.5 225,484C227,486.5 228.8,488.9 231,491C233.2,493.1 236.8,495.7 238,496.6" stroke-width="0.8"/>
<path d="M286.9,437.1L288.7,432M284.8,448.6L290.5,432.7M270,497.3L293.4,432.9M273.1,496.1L293.6,439.8M276,493.5L292.1,449.4M282.8,483.2L288.8,466.5" stroke-width="0.6" stroke="#333"/>
<path d="M288.6,435C288.4,436.8 288.1,442.3 287.6,446C287.1,449.7 286.4,453.6 285.6,457C284.8,460.4 284,463.4 283,466.6C282,469.8 280.6,473 279.4,476C278.2,479 277,481.9 275.6,484.6C274.2,487.3 271.8,490.8 271,492" stroke-width="0.7"/>
<path d="M290.6,436C290.4,437.7 290.1,442.5 289.6,446C289.1,449.5 288.2,453.5 287.4,457C286.6,460.5 285.7,463.7 284.6,467C283.5,470.3 282.3,473.8 281,477C279.7,480.2 278.4,483.2 277,486C275.6,488.8 273.3,492.3 272.6,493.6" stroke-width="0.8"/>
<path d="M203.9,449.6C204.4,449.4 205.6,449.4 207,448.6C208.4,447.8 211.4,445.6 212.3,445" stroke-width="1.1"/>
<path d="M203.9,449.6C204.4,449.8 205.8,450.6 207,450.6C208.2,450.6 210.7,449.9 211.4,449.7" stroke-width="1.1"/>
<path d="M291.2,433.9C291.5,433.6 292.4,432.9 293,432C293.6,431.1 294.5,429.8 295,428.6C295.5,427.4 295.8,425.6 296,425" stroke-width="0.9"/>
</g>
<!-- ear -->
<g id="ear">
<path d="M430.7,407.1C430.5,405.2 429.3,399.3 429.3,395.7C429.3,392.1 429.6,389 430.7,385.7C431.8,382.4 433.4,378.5 435.7,375.7C438,372.9 441,370.4 444.3,368.6C447.6,366.8 451.9,365.2 455.7,365C459.5,364.8 463.5,365.7 467.1,367.1C470.7,368.5 474.2,371 477.1,373.6C480,376.2 482.3,379.4 484.3,382.9C486.3,386.3 488.1,390.3 489.3,394.3C490.5,398.3 491.2,403.2 491.4,407.1C491.6,411.1 491,414.8 490.4,418C489.8,421.2 488.7,423.9 487.9,426.4C487.1,428.9 486.7,430.8 485.7,432.9C484.7,435 483.9,436.3 482.1,439.3C480.3,442.3 477.6,447.1 475,450.7C472.4,454.3 469.7,457.4 466.4,460.7C463.1,464 458.8,467.8 455,470.7C451.2,473.6 447.4,475.8 443.6,477.9C439.8,480 435.9,482.2 432.1,483.6C428.3,485 424.3,486.2 420.7,486.4C417.1,486.6 413.5,485.9 410.7,485C407.9,484.1 405.4,482.4 403.6,480.7C401.8,479 400.6,477.1 400,475C399.4,472.9 399.4,470.5 400,467.9C400.6,465.3 402.3,462.2 403.6,459.3C404.9,456.4 406.7,453.3 407.9,450.7C409.1,448.1 410.2,444.8 410.7,443.6" stroke-width="1.4"/>
<path d="M433.6,405.7C433.5,403.8 432.7,397.9 432.9,394.3C433.1,390.7 433.8,387.3 435,384.3C436.2,381.3 437.7,378.5 440,376.4C442.3,374.2 445.8,372.6 448.6,371.4C451.5,370.2 454,369.3 457.1,369.3C460.2,369.3 464,370.1 467.1,371.4C470.2,372.7 473.2,374.7 475.7,377.1C478.2,379.5 480.4,382.4 482.1,385.7C483.8,389 484.7,393.3 485.7,397.1C486.7,400.9 487.8,405 487.9,408.6C488,412.2 487.3,415.6 486.6,419C485.9,422.4 485.1,425.7 483.6,429.3C482.2,432.9 480,437.1 477.9,440.7C475.8,444.3 473.6,447.4 470.7,450.7C467.8,454 464.3,457.6 460.7,460.7C457.1,463.8 453.1,466.9 449.3,469.3C445.5,471.7 439.8,474.1 437.9,475" stroke-width="0.7" stroke="#333"/>
<path d="M437.4,407.1C437.3,405.2 436.7,399 436.9,395.7C437.1,392.4 437.6,389.6 438.6,387.1C439.6,384.6 441,382.4 442.9,380.7C444.8,379 447.4,377.9 450,377.1C452.6,376.3 455.8,375.4 458.6,375.7C461.5,375.9 464.5,377.2 467.1,378.6C469.7,380 472.3,381.9 474.3,384.3C476.3,386.7 478,389.6 479.3,392.9C480.6,396.2 481.5,400.5 482.1,404.3C482.7,408.1 483,411.9 482.9,415.7C482.8,419.5 482.2,423.5 481.4,427.1C480.6,430.7 479.4,434.3 477.9,437.1C476.3,439.9 474.5,441.8 472.1,444C469.7,446.2 466.5,449 463.6,450.6C460.8,452.2 458.1,452.7 455,453.4C451.9,454.1 448.3,454.5 445,454.9C441.7,455.3 438.1,455.4 435,455.9C431.9,456.4 428.5,456.9 426.4,457.9C424.2,458.9 422.6,460.7 422.1,462.1C421.6,463.5 422.2,465.3 423.6,466.4C425,467.5 427.6,468.6 430.7,468.6C433.8,468.6 438.3,467.7 442.1,466.4C445.9,465.1 450,463.1 453.6,460.7C457.2,458.3 460.5,455.2 463.6,452.1C466.7,449 470.7,443.8 472.1,442.1" stroke-width="1.1"/>
<path d="M437.4,407.1C437.5,408.8 437.5,414 437.9,417.1C438.3,420.2 439.4,422.8 440,425.7C440.6,428.6 441.2,431.8 441.4,434.3C441.6,436.9 440.9,438.9 441,441C441.1,443.1 441.9,446.1 442.1,447.1" stroke-width="1.1"/>
<path d="M442.1,385C442.7,385.6 444.3,388.1 445.7,388.6C447.1,389.1 449.3,388.6 450.7,387.9C452.1,387.2 453.2,385.4 454.3,384.3C455.4,383.2 456.6,381.9 457.1,381.4" stroke-width="1"/>
<path d="M444,389.6C444.7,390 446.6,391.9 448,392C449.4,392.1 451.3,391 452.6,390C453.9,389 455.4,386.7 456,386" stroke-width="0.6" stroke="#555"/>
<path d="M457.1,381.4C457.8,382.6 459.7,386 461.4,388.6C463.1,391.2 465.2,394 467.1,397.1C469,400.2 471.3,403.5 472.9,407.1C474.4,410.7 475.8,414.8 476.4,418.6C477,422.4 476.9,426.4 476.4,430C475.9,433.6 474.1,438.3 473.6,440" stroke-width="0.9"/>
<path d="M442.1,385C442.2,386.3 442.1,390.4 442.9,392.9C443.7,395.4 445.2,397.9 447.1,400C449,402.1 451.9,403.8 454.3,405.7C456.7,407.6 459.5,409.2 461.4,411.4C463.3,413.5 464.8,416 465.7,418.6C466.6,421.2 467.1,424.2 467.1,427.1C467.1,430 466.6,433.2 465.7,435.7C464.8,438.2 463.4,440.2 462,442C460.6,443.8 458.6,445.3 457,446.4C455.4,447.5 454.6,448.5 452.1,448.6C449.6,448.7 443.8,447.4 442.1,447.1" stroke-width="1.2"/>
<path d="M458.8,379.8L459.7,378.3M459.1,382.9L461.6,378.6M459.9,384.2L462.8,379.2M461,385.5L464.6,379.3M461.9,387.2L466,380M462.8,389.1L467.8,380.4M464,389.9L468.7,381.7M465.1,391.6L470.2,382.8M466.1,393.2L471.7,383.5M467,394.9L472.8,384.8M467.9,396.3L474,385.6M468.7,397.9L475,387M469.9,399.3L475.7,389.3M470.7,401L476.7,390.7M471.6,402.3L477.6,391.9M472.3,404.3L478.5,393.7M473.4,405.7L479,396M474.1,407.8L479.6,398.3M474.7,409.8L480.2,400.3M475.3,412.1L480.5,403M476.1,414.2L481,405.9M476.6,416.6L481.4,408.3M477.5,418.1L481.4,411.4M477.4,421.1L481.5,414M477.5,424.6L481.7,417.3M477.3,428.1L481,421.7M477,431.3L480.7,425M474.9,438.6L478.5,432.4" stroke-width="0.6" stroke="#222"/>
<path d="M475.8,377.7L474.8,377.7M477,378.9L475.7,378.9M477.7,380L476.8,380M478.9,381L477.9,381M479.6,382.3L478.3,382.3M480.5,383.3L479.2,383.3M480.8,384.4L479.8,384.4M481.8,385.5L480.6,385.5M482.4,387L481.3,387M483.2,388.4L481.3,388.4M483.1,389.8L481.5,389.8M483.8,391.4L482.1,391.4M484.3,392.7L483.1,392.7M484.9,394.6L482.8,394.6M485.3,396.3L483,396.3M485.8,397.9L484,397.9M486,399.3L484.5,399.3M486.5,400.5L484.6,400.5M487,402.3L484.8,402.3M487,404L485.4,404M487.4,405.7L485.6,405.7M487.3,407.2L485.7,407.2M487.8,408.5L485.1,408.5M487.9,409.9L485.9,409.9M487.6,411.2L485.6,411.2M487.7,413.1L484.7,413.1M487,414.7L485.3,414.7M486.9,416.2L484,416.2M486.8,417.4L485.3,417.4M486.3,419.3L484.6,419.3M485.7,420.8L483.8,420.8M485.5,422.1L483,422.1M484.9,424L482.7,424M484.6,425.5L482.4,425.5M484.3,427.2L481.7,427.2M483.4,428.5L481.4,428.5M482.7,430L481,430M482.7,431.3L481.4,431.3M482.2,432.4L480,432.4M480.9,434L478.6,434M480.3,435.7L478.6,435.7M479.6,437.3L477.7,437.3M478.8,438.9L477.6,438.9M477.8,440.6L476.3,440.6M477,442.2L475.5,442.2M476.1,443.2L474.9,443.2M474.6,444.8L473.5,444.8M473.4,446.3L472.3,446.3M472.8,447.7L471.6,447.7M471.7,449L470.3,449M470.9,450.1L469.9,450.1" stroke-width="0.5" stroke="#555"/>
<path d="M437.4,406.3L438.7,406.2M437.3,404.4L438.4,404.3M437.6,402.7L439,402.6M437.5,401.1L439.3,401M437.3,399.8L439.6,399.6M436.9,398.3L439.6,398M437.4,396.3L439,396.2M437.2,395L438.8,394.9M437.4,393.1L439.4,392.9M437.7,391.4L439.7,391.3M438.1,390.2L440.5,390M438,388.9L440,388.7M439.1,387.1L441.5,386.9M439.8,385.5L441.6,385.4M440.7,383.8L443.6,383.6M441.6,382.4L444.2,382.2M442.4,381.2L444.2,381M443.8,380.1L445.8,379.9M445.5,379.2L447.4,379M447.1,378.4L449,378.2M448.9,377.7L450.2,377.6M450.2,377.1L451.7,377" stroke-width="0.5" stroke="#444"/>
<path d="M438.4,398.5L439.8,396.3M438.6,402.2L443.5,394.3M438.7,405.6L444.3,396.7M439.1,409L445.6,398.6M439.1,412.5L446.5,400.6M439.1,416L448,401.7M439.6,419.1L449.3,403.6M440.5,421.3L451.1,404.4M441.2,424L452.8,405.5M441.4,427.5L454.3,406.8M441.9,430.6L455.9,408.2M442.6,433L457.4,409.3M442.9,436.5L458.7,411.2M443.2,440L460.5,412.5M443.6,443.4L461.9,414M444.1,445.7L462.7,415.9M446.5,446L464.1,417.8M448.6,446.6L464.9,420.5M450.4,447.1L465.3,423.3M453.2,446.6L465.9,426.3M456.4,445.5L465.3,431.3" stroke-width="0.6" stroke="#333"/>
<path d="M447.1,400.2L446,399.6M448.3,401.1L447,400.5M449.5,401.9L448,401.2M450.1,402.5L448.8,401.9M451,403.2L449.2,402.4M452,404L450.2,403.1M452.9,404.6L450.2,403.3M453.3,405L450.6,403.8M454.5,405.9L452.4,404.9M455.2,406.4L452.8,405.3M456.1,407.1L452.9,405.6M456.6,407.5L453.6,406.1M457.5,408.2L454.4,406.7M458.4,408.9L454.8,407.2M459.6,409.7L456.2,408.2M460.4,410.5L456.9,408.9M461.1,411.3L459.1,410.4M462,412.3L459.2,411M462.5,413.1L459.7,411.8M463.2,414.2L460.1,412.7M463.8,415.2L460.7,413.7M464.4,416.4L460.8,414.7M465.3,417.7L462.1,416.2M465.5,418.6L462.5,417.2M466,420L463.9,419M466,421.1L463.1,419.8M466.4,422.2L462.9,420.6M466.7,423.5L464.6,422.5M466.7,424.8L463.3,423.2M466.7,425.9L464.8,425M466.8,427.1L463.5,425.6M467,428.4L463.6,426.8M466.4,429.6L464.6,428.8M466.3,430.9L463.8,429.7M466.5,432.3L464.1,431.1M466.2,433.6L463.6,432.4M465.5,434.3L463.4,433.4M465.6,435.9L463.5,435M464.6,437L463.1,436.3M464.4,438.2L461.9,437.1M463.7,439.4L461.8,438.5M462.7,440.3L461.3,439.7M461.9,441.6L460.3,440.8" stroke-width="0.6" stroke="#222"/>
<path d="M443.5,387L444.9,384.7M444.5,388.2L448.2,382.4M445.6,388.8L450.3,381.3M447.1,389L452,381.2M449.3,388.7L453.4,382.2M450.7,388.5L454.5,382.4" stroke-width="0.5" stroke="#333"/>
<path d="M430.7,407.1C430.1,408.5 428.7,413.1 427.1,415.7C425.6,418.3 423.3,420.3 421.4,422.9C419.5,425.5 417.1,428.5 415.7,431.4C414.3,434.2 413.7,438 412.9,440C412.1,442 411.1,443 410.7,443.6" stroke-width="1.1"/>
<path d="M410.7,443.6C410.6,444.6 409.5,447.6 410,449.3C410.5,451 411.8,452.8 413.6,453.6C415.4,454.4 418.1,454.7 420.7,454.3C423.3,453.9 426.4,452.3 429.3,451.4C432.2,450.4 435.8,449.3 437.9,448.6C440,447.9 441.4,447.4 442.1,447.1" stroke-width="1.2"/>
<path d="M429,419.7L430.7,421.1M428.6,421L433.5,425.1M427.4,421.5L435.6,428.4M426.7,422.3L436.5,430.6M426,423.2L437.1,432.5M425,424L437.7,434.7M424.7,425.1L438,436.3M424,426L438.6,438.3M423,426.7L438.9,440M422.5,428L439.7,442.4M421.8,428.9L439.8,444M421.1,429.6L439.9,445.4M420.3,430.4L438.8,446M419.5,431.4L437.6,446.5M419.1,432.4L436.6,447.1M418.8,433.8L435.5,447.8M418.2,434.8L434.2,448.2M417.4,435.7L432.7,448.5M416.7,436.7L431.4,449M416.6,437.9L430.3,449.3M415.9,439L428.9,449.9M415.2,439.9L427.7,450.4M415.7,441.5L426.6,450.6M416.1,443.4L425.2,451M416,444.8L423.6,451.2M416.2,446.6L422.2,451.6M416.6,448.6L419,450.6" stroke-width="0.6" stroke="#111"/>
<path d="M425.8,425.2L426.7,423.9M425.4,427.6L428.1,423.8M425.1,430.2L429.5,423.8M425.4,431.3L431,423.4M426.1,432.6L431.4,425M426.5,433.8L432.2,425.6M426.5,435.9L432.8,426.9M427.2,436.8L433.1,428.3M427.7,437.8L433.7,429.2M428.1,439.1L434,430.6M428.8,439.9L434.8,431.3M430,440.6L435,433.4M430.3,441.9L435.4,434.7M431.4,442.1L435.5,436.1M432,443.1L436.2,437M433.8,442.4L436.5,438.6" stroke-width="0.7" stroke="#111"/>
<ellipse cx="430.6" cy="427.4" rx="1.5" ry="2.6" fill="#111" stroke="none" transform="rotate(15 430.6 427.4)"/>
<ellipse cx="430" cy="434" rx="1.3" ry="2.2" fill="#111" stroke="none"/>
<path d="M429.3,419.3C428.9,420.2 428.1,423.1 427,425C425.9,426.9 424,429 422.6,431C421.2,433 419.6,435 418.6,437C417.6,439 416.9,442 416.6,443" stroke-width="0.9"/>
<path d="M419,444C419.8,443.6 422.2,442.1 424,441.6C425.8,441.1 428,440.8 430,441C432,441.2 435,442.3 436,442.6" stroke-width="0.8"/>
<path d="M442.8,363.1L443.4,366.6M440.3,363.3L440.7,365.1M440.8,366.1L441.6,370.2M438.3,363.4L439.9,372.2M436,363.6L437,369.2M437.1,370.2L437.7,373.3M433.4,363.9L434.1,368.1M434.3,369.1L435.4,375.6M431.3,363.8L433.9,378.4M429,363.8L432.1,381.8M426.8,364.5L430.6,385.6M424.6,365.1L429.5,392.6M424.9,382.2L427.4,395.8M424.6,393.5L425,395.8" stroke-width="0.5" stroke="#777"/>
<path d="M426.1,412.4L426.5,413.4M424.6,414.8L425.6,417.8M422.8,417.4L423.8,420.3M421.5,419.4L422.3,422M419.7,421.7L420.6,424.5M417.9,423.6L419,426.8M416.2,425.6L417.3,428.9M414.4,427.7L415.6,431.3M412.6,429.2L414,433.6M410.3,430.2L410.9,432.1M411.2,433.1L412.5,437M408.7,431.9L411.3,440.1M406.4,432.7L409.7,442.7M404.1,434.4L407.9,446.1M404.5,441.5L406.7,448.2" stroke-width="0.5" stroke="#777"/>
<path d="M407.7,451.4L409.6,450M406.7,453.2L409.3,451.4M406,454.9L408.8,452.9M405.3,456.3L409.2,453.6M404.6,457.8L407.7,455.6M403.8,459.6L407.7,456.8M402.8,461.3L406.4,458.8M402.4,462.5L405.4,460.3M401.3,464.3L404.2,462.3M401,465.6L406,462.1M400.3,467.6L403.7,465.2M400,469.5L403.6,467M399.8,470.9L403.5,468.3M400,472.9L404.6,469.6M400.4,474.3L404.5,471.5M400.6,475.7L403.5,473.7M401.5,477L403.7,475.4M401.9,478.4L404.5,476.7M402.9,479.8L405.7,477.8" stroke-width="0.5" stroke="#555"/>
<path d="M411.2,484.6L410.4,482.9M412.8,485.3L412.2,484M414.4,485.5L413.6,483.7M416.1,485.9L415.4,484.5M417.8,486L416.6,483.4M419.5,486.1L418.2,483.4M420.7,486L419.9,484.4M422.2,486.2L421.1,483.8M423.9,485.6L422.9,483.5M425.6,485.5L424.5,483.1M427.1,485.2L426,482.8M428.1,484.4L427.2,482.5M429.4,484.2L427.7,480.5M431.2,483.8L429.9,481M432.2,483.1L430.8,480M433.9,482.8L432.1,479.1M435.1,481.7L433.6,478.4M436.6,481.6L434.8,477.9M437.8,480.7L436.7,478.2M439,480.2L437.8,477.6M440.3,479.6L439.1,477M441.2,478.5L440,475.9M442.9,477.9L442,475.9M443.8,477.1L442.8,474.9M445.1,476.6L444.3,474.9M446.4,475.6L445.3,473.3M447.8,475.2L446.9,473.3M449.1,474.2L448,471.8M450.2,473.2L449.5,471.7M451.8,472.3L451,470.5M453.1,471.9L452.6,470.7M454.3,470.7L453.4,468.9" stroke-width="0.5" stroke="#444"/>
<path d="M441.2,472.5L441.8,472.7M439.4,473.2L440.9,473.7M437.2,474.1L439.7,475M433.7,474.2L438.8,476.1M423.8,472.5L437.6,477.5M424,474.1L434.8,478.1M424.1,475.6L432.6,478.6M424.3,477.5L429.6,479.5" stroke-width="0.5" stroke="#666"/>
<path d="M459.6,452.8L461.1,453.3M457.8,453.6L459.9,454.4M455.4,454.7L458.6,455.8M452.5,455.1L457.2,456.8M449,455.7L455.3,458M445.8,456.2L453.3,458.9M441.9,456.5L451.5,460M437.5,456.8L449.6,461.2M435.1,457.2L448.3,462M431.6,458L446,463.3M429.1,458.8L443.5,464.1M427,459.5L442,465M425,460.6L438.5,465.5M424.4,462.3L435.3,466.2M423.9,463.5L432.5,466.6" stroke-width="0.5" stroke="#444"/>
<path d="M477.3,441.4L476.5,440.8M475.7,442.9L474.5,442.1M475,444.3L474,443.6M473.9,446L472.9,445.2M472.9,447.5L471.4,446.5M472,449L470.8,448.2M471,450.1L469,448.6M469.5,451.3L468.1,450.4M468.7,452.5L466.5,450.9M467.5,454.2L465,452.5M466.5,455.2L464.8,454.1M464.7,456.5L463.1,455.4M462.9,457.9L460.5,456.2M461.5,459.2L459.6,457.9M460.6,460.4L458.4,458.9M459,461.4L457.1,460.2M457.5,463L455.1,461.4M456,464.6L453.3,462.7M454.2,465.8L452.8,464.8M452.8,466.6L451,465.4M450.9,467.8L449.5,466.9M449.2,468.7L447.9,467.8M447.4,469.9L445.9,468.8M445.8,470.7L444.1,469.5M444.5,471.9L443.2,471M442.8,472.6L441.4,471.6M441.1,473.4L440.3,472.8M439.3,473.9L438.2,473.2M437.9,474.6L437,474" stroke-width="0.5" stroke="#555"/>
</g>
</svg>
</body>
</html>
